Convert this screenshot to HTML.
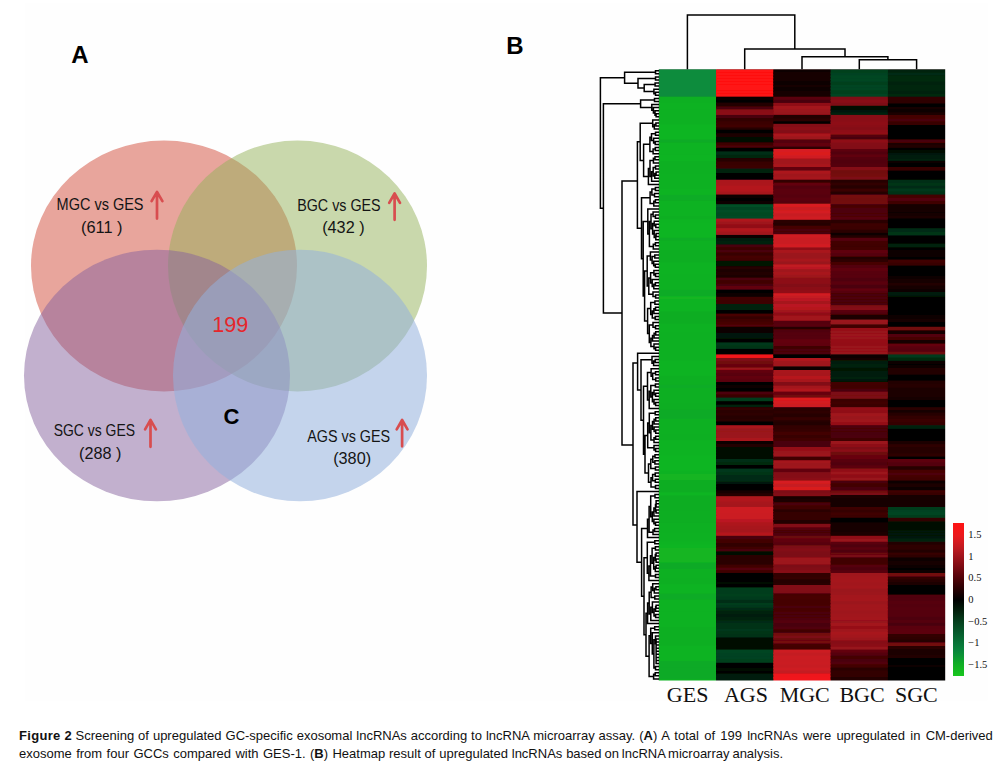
<!DOCTYPE html>
<html lang="en"><head><meta charset="utf-8"><title>Figure 2</title>
<style>
html,body{margin:0;padding:0;background:#fff;}
body{width:1002px;height:771px;position:relative;overflow:hidden;font-family:"Liberation Sans",sans-serif;}
.cap{position:absolute;left:19px;white-space:nowrap;font-size:13px;line-height:18px;color:#111;}
#c1{top:727px;word-spacing:0px;}
#c2{top:745px;word-spacing:0px;}
</style></head><body>
<svg width="1002" height="715" viewBox="0 0 1002 715" style="position:absolute;left:0;top:0">
<rect x="24.7" y="2.6" width="962.8" height="698" fill="#fefefe"/>
<ellipse cx="164.0" cy="266.0" rx="133.0" ry="125.5" fill="rgb(209, 75, 57)" fill-opacity="0.5"/>
<ellipse cx="297.5" cy="266.0" rx="129.5" ry="125.5" fill="rgb(147, 177, 89)" fill-opacity="0.5"/>
<ellipse cx="157.0" cy="375.5" rx="133.0" ry="125.8" fill="rgb(133, 97, 157)" fill-opacity="0.5"/>
<ellipse cx="300.0" cy="375.5" rx="127.0" ry="125.8" fill="rgb(148, 177, 220)" fill-opacity="0.55"/>
<text x="56.6" y="210" font-family="Liberation Sans, sans-serif" font-size="16.4" font-weight="normal" fill="#141414" textLength="86.9" lengthAdjust="spacingAndGlyphs">MGC vs GES</text>
<text x="81" y="233.4" font-family="Liberation Sans, sans-serif" font-size="15.7" font-weight="normal" fill="#141414" textLength="41.5" lengthAdjust="spacingAndGlyphs">(611 )</text>
<path d="M157 218.6 V192.1 M151.6 201.2 L157 191.79999999999998 L162.4 201.2" fill="none" stroke="#d84d4f" stroke-width="2.7" stroke-linecap="round" stroke-linejoin="round"/>
<text x="297.2" y="210.8" font-family="Liberation Sans, sans-serif" font-size="16.4" font-weight="normal" fill="#141414" textLength="83.4" lengthAdjust="spacingAndGlyphs">BGC vs GES</text>
<text x="322.2" y="232.8" font-family="Liberation Sans, sans-serif" font-size="15.7" font-weight="normal" fill="#141414" textLength="42.4" lengthAdjust="spacingAndGlyphs">(432 )</text>
<path d="M394.6 219.8 V193.8 M389.20000000000005 202.9 L394.6 193.5 L400.0 202.9" fill="none" stroke="#d84d4f" stroke-width="2.7" stroke-linecap="round" stroke-linejoin="round"/>
<text x="53.7" y="436.4" font-family="Liberation Sans, sans-serif" font-size="16.4" font-weight="normal" fill="#141414" textLength="81.3" lengthAdjust="spacingAndGlyphs">SGC vs GES</text>
<text x="79.1" y="459" font-family="Liberation Sans, sans-serif" font-size="15.7" font-weight="normal" fill="#141414" textLength="42.3" lengthAdjust="spacingAndGlyphs">(288 )</text>
<path d="M150.5 446.8 V420.2 M145.1 429.3 L150.5 419.9 L155.9 429.3" fill="none" stroke="#d84d4f" stroke-width="2.7" stroke-linecap="round" stroke-linejoin="round"/>
<text x="307.2" y="442.3" font-family="Liberation Sans, sans-serif" font-size="16.4" font-weight="normal" fill="#141414" textLength="82.9" lengthAdjust="spacingAndGlyphs">AGS vs GES</text>
<text x="333.2" y="463.8" font-family="Liberation Sans, sans-serif" font-size="15.7" font-weight="normal" fill="#141414" textLength="37.9" lengthAdjust="spacingAndGlyphs">(380)</text>
<path d="M402.1 446.3 V420.3 M396.70000000000005 429.40000000000003 L402.1 420.0 L407.5 429.40000000000003" fill="none" stroke="#d84d4f" stroke-width="2.7" stroke-linecap="round" stroke-linejoin="round"/>
<text x="212.3" y="332.2" font-family="Liberation Sans, sans-serif" font-size="22" fill="#e6262b" textLength="36" lengthAdjust="spacingAndGlyphs">199</text>
<text x="71.3" y="63.1" font-family="Liberation Sans, sans-serif" font-size="24" font-weight="bold" fill="#000">A</text>
<text x="506.3" y="54.4" font-family="Liberation Sans, sans-serif" font-size="24" font-weight="bold" fill="#000">B</text>
<text x="223.4" y="424" font-family="Liberation Sans, sans-serif" font-size="22" font-weight="bold" fill="#000">C</text>
<defs><clipPath id="hc"><rect x="658.8" y="69.2" width="286.4" height="611.2"/></clipPath><filter id="vb" x="0" y="0" width="1" height="1" filterUnits="objectBoundingBox"><feGaussianBlur stdDeviation="0 0.55"/></filter></defs>
<g clip-path="url(#hc)"><g filter="url(#vb)">
<rect x="656.8" y="64.2" width="290.4" height="621.2" fill="#200"/>
<rect x="658.8" y="69.20" width="57.78" height="29.10" fill="rgb(10, 140, 60)"/>
<rect x="658.8" y="96.70" width="57.78" height="7.74" fill="rgb(15, 176, 35)"/>
<rect x="658.8" y="102.84" width="57.78" height="7.74" fill="rgb(16, 178, 34)"/>
<rect x="658.8" y="108.98" width="57.78" height="16.90" fill="rgb(16, 177, 35)"/>
<rect x="658.8" y="124.28" width="57.78" height="16.90" fill="rgb(17, 181, 34)"/>
<rect x="658.8" y="139.58" width="57.78" height="4.67" fill="rgb(14, 171, 38)"/>
<rect x="658.8" y="142.65" width="57.78" height="13.90" fill="rgb(17, 179, 34)"/>
<rect x="658.8" y="154.95" width="57.78" height="7.74" fill="rgb(17, 180, 34)"/>
<rect x="658.8" y="161.09" width="57.78" height="13.90" fill="rgb(16, 176, 35)"/>
<rect x="658.8" y="173.39" width="57.78" height="16.90" fill="rgb(16, 177, 35)"/>
<rect x="658.8" y="188.69" width="57.78" height="7.74" fill="rgb(17, 179, 34)"/>
<rect x="658.8" y="194.83" width="57.78" height="7.74" fill="rgb(15, 172, 37)"/>
<rect x="658.8" y="200.97" width="57.78" height="16.90" fill="rgb(16, 178, 34)"/>
<rect x="658.8" y="216.27" width="57.78" height="4.67" fill="rgb(15, 175, 35)"/>
<rect x="658.8" y="219.34" width="57.78" height="4.67" fill="rgb(17, 180, 34)"/>
<rect x="658.8" y="222.41" width="57.78" height="16.90" fill="rgb(17, 181, 34)"/>
<rect x="658.8" y="237.71" width="57.78" height="4.67" fill="rgb(15, 172, 37)"/>
<rect x="658.8" y="240.78" width="57.78" height="10.80" fill="rgb(16, 177, 35)"/>
<rect x="658.8" y="249.98" width="57.78" height="13.90" fill="rgb(15, 174, 36)"/>
<rect x="658.8" y="262.28" width="57.78" height="13.90" fill="rgb(16, 178, 34)"/>
<rect x="658.8" y="274.58" width="57.78" height="16.90" fill="rgb(16, 177, 35)"/>
<rect x="658.8" y="289.88" width="57.78" height="7.74" fill="rgb(14, 171, 38)"/>
<rect x="658.8" y="296.02" width="57.78" height="4.67" fill="rgb(18, 181, 34)"/>
<rect x="658.8" y="299.09" width="57.78" height="13.90" fill="rgb(17, 179, 34)"/>
<rect x="658.8" y="311.39" width="57.78" height="13.90" fill="rgb(15, 173, 36)"/>
<rect x="658.8" y="323.69" width="57.78" height="10.80" fill="rgb(16, 177, 35)"/>
<rect x="658.8" y="332.89" width="57.78" height="13.90" fill="rgb(15, 176, 35)"/>
<rect x="658.8" y="345.19" width="57.78" height="16.90" fill="rgb(15, 176, 35)"/>
<rect x="658.8" y="360.49" width="57.78" height="16.90" fill="rgb(17, 179, 34)"/>
<rect x="658.8" y="375.79" width="57.78" height="10.80" fill="rgb(15, 175, 35)"/>
<rect x="658.8" y="384.99" width="57.78" height="4.67" fill="rgb(15, 172, 37)"/>
<rect x="658.8" y="388.06" width="57.78" height="16.90" fill="rgb(15, 175, 35)"/>
<rect x="658.8" y="403.36" width="57.78" height="7.74" fill="rgb(15, 174, 35)"/>
<rect x="658.8" y="409.50" width="57.78" height="10.80" fill="rgb(14, 170, 39)"/>
<rect x="658.8" y="418.70" width="57.78" height="16.90" fill="rgb(15, 176, 35)"/>
<rect x="658.8" y="434.00" width="57.78" height="7.74" fill="rgb(15, 175, 35)"/>
<rect x="658.8" y="440.14" width="57.78" height="16.90" fill="rgb(17, 179, 34)"/>
<rect x="658.8" y="455.44" width="57.78" height="4.67" fill="rgb(17, 181, 34)"/>
<rect x="658.8" y="458.51" width="57.78" height="13.90" fill="rgb(17, 181, 34)"/>
<rect x="658.8" y="470.81" width="57.78" height="4.67" fill="rgb(16, 178, 34)"/>
<rect x="658.8" y="473.88" width="57.78" height="7.74" fill="rgb(18, 181, 34)"/>
<rect x="658.8" y="480.02" width="57.78" height="13.90" fill="rgb(15, 173, 36)"/>
<rect x="658.8" y="492.32" width="57.78" height="4.67" fill="rgb(17, 181, 34)"/>
<rect x="658.8" y="495.39" width="57.78" height="16.90" fill="rgb(15, 173, 36)"/>
<rect x="658.8" y="510.69" width="57.78" height="13.90" fill="rgb(15, 174, 36)"/>
<rect x="658.8" y="522.99" width="57.78" height="10.80" fill="rgb(15, 176, 35)"/>
<rect x="658.8" y="532.19" width="57.78" height="10.80" fill="rgb(16, 177, 35)"/>
<rect x="658.8" y="541.39" width="57.78" height="4.67" fill="rgb(16, 179, 34)"/>
<rect x="658.8" y="544.46" width="57.78" height="4.67" fill="rgb(17, 181, 34)"/>
<rect x="658.8" y="547.53" width="57.78" height="16.90" fill="rgb(18, 181, 34)"/>
<rect x="658.8" y="562.83" width="57.78" height="7.74" fill="rgb(14, 170, 39)"/>
<rect x="658.8" y="568.97" width="57.78" height="10.80" fill="rgb(15, 176, 35)"/>
<rect x="658.8" y="578.17" width="57.78" height="7.74" fill="rgb(15, 175, 35)"/>
<rect x="658.8" y="584.31" width="57.78" height="10.80" fill="rgb(16, 179, 34)"/>
<rect x="658.8" y="593.51" width="57.78" height="7.74" fill="rgb(14, 171, 38)"/>
<rect x="658.8" y="599.65" width="57.78" height="13.90" fill="rgb(16, 178, 34)"/>
<rect x="658.8" y="611.95" width="57.78" height="16.90" fill="rgb(16, 178, 34)"/>
<rect x="658.8" y="627.25" width="57.78" height="16.90" fill="rgb(15, 175, 35)"/>
<rect x="658.8" y="642.55" width="57.78" height="4.67" fill="rgb(15, 175, 35)"/>
<rect x="658.8" y="645.62" width="57.78" height="16.90" fill="rgb(17, 179, 34)"/>
<rect x="658.8" y="660.92" width="57.78" height="7.74" fill="rgb(14, 170, 38)"/>
<rect x="658.8" y="667.06" width="57.78" height="13.90" fill="rgb(14, 170, 39)"/>
<rect x="658.8" y="679.36" width="57.78" height="2.64" fill="rgb(16, 179, 34)"/>
<rect x="716.08" y="69.32" width="57.68" height="4.64" fill="rgb(255, 18, 18)"/>
<rect x="716.08" y="72.36" width="57.68" height="4.64" fill="rgb(255, 18, 18)"/>
<rect x="716.08" y="75.40" width="57.68" height="4.64" fill="rgb(255, 18, 18)"/>
<rect x="716.08" y="78.44" width="57.68" height="4.64" fill="rgb(255, 18, 18)"/>
<rect x="716.08" y="81.48" width="57.68" height="4.64" fill="rgb(255, 18, 18)"/>
<rect x="716.08" y="84.52" width="57.68" height="4.64" fill="rgb(255, 18, 18)"/>
<rect x="716.08" y="87.56" width="57.68" height="4.64" fill="rgb(255, 18, 18)"/>
<rect x="716.08" y="90.60" width="57.68" height="4.64" fill="rgb(255, 18, 18)"/>
<rect x="716.08" y="93.64" width="57.68" height="4.64" fill="rgb(255, 18, 18)"/>
<rect x="716.08" y="96.68" width="57.68" height="4.72" fill="rgb(12, 0, 1)"/>
<rect x="716.08" y="99.80" width="57.68" height="4.72" fill="rgb(6, 0, 0)"/>
<rect x="716.08" y="102.92" width="57.68" height="4.96" fill="rgb(32, 0, 2)"/>
<rect x="716.08" y="106.28" width="57.68" height="4.72" fill="rgb(74, 2, 7)"/>
<rect x="716.08" y="109.40" width="57.68" height="4.36" fill="rgb(137, 14, 22)"/>
<rect x="716.08" y="112.16" width="57.68" height="4.36" fill="rgb(139, 15, 23)"/>
<rect x="716.08" y="114.92" width="57.68" height="4.72" fill="rgb(73, 2, 7)"/>
<rect x="716.08" y="118.04" width="57.68" height="4.72" fill="rgb(51, 1, 4)"/>
<rect x="716.08" y="121.16" width="57.68" height="4.72" fill="rgb(59, 1, 5)"/>
<rect x="716.08" y="124.28" width="57.68" height="4.72" fill="rgb(65, 1, 6)"/>
<rect x="716.08" y="127.40" width="57.68" height="4.00" fill="rgb(40, 0, 2)"/>
<rect x="716.08" y="129.79" width="57.68" height="5.20" fill="rgb(3, 0, 0)"/>
<rect x="716.08" y="133.39" width="57.68" height="5.20" fill="rgb(29, 0, 1)"/>
<rect x="716.08" y="136.99" width="57.68" height="4.24" fill="rgb(1, 8, 3)"/>
<rect x="716.08" y="139.63" width="57.68" height="4.24" fill="rgb(1, 15, 5)"/>
<rect x="716.08" y="142.27" width="57.68" height="4.36" fill="rgb(61, 1, 5)"/>
<rect x="716.08" y="145.03" width="57.68" height="4.36" fill="rgb(75, 2, 7)"/>
<rect x="716.08" y="147.79" width="57.68" height="5.20" fill="rgb(3, 0, 0)"/>
<rect x="716.08" y="151.39" width="57.68" height="4.96" fill="rgb(4, 47, 21)"/>
<rect x="716.08" y="154.75" width="57.68" height="4.96" fill="rgb(3, 38, 15)"/>
<rect x="716.08" y="158.11" width="57.68" height="5.12" fill="rgb(39, 0, 2)"/>
<rect x="716.08" y="161.63" width="57.68" height="5.12" fill="rgb(56, 1, 4)"/>
<rect x="716.08" y="165.15" width="57.68" height="5.12" fill="rgb(59, 1, 5)"/>
<rect x="716.08" y="168.67" width="57.68" height="5.92" fill="rgb(3, 36, 14)"/>
<rect x="716.08" y="172.99" width="57.68" height="4.96" fill="rgb(0, 3, 1)"/>
<rect x="716.08" y="176.35" width="57.68" height="4.96" fill="rgb(1, 0, 0)"/>
<rect x="716.08" y="179.71" width="57.68" height="4.58" fill="rgb(171, 22, 30)"/>
<rect x="716.08" y="182.69" width="57.68" height="4.58" fill="rgb(172, 22, 30)"/>
<rect x="716.08" y="185.66" width="57.68" height="4.58" fill="rgb(180, 24, 31)"/>
<rect x="716.08" y="188.64" width="57.68" height="4.58" fill="rgb(179, 24, 31)"/>
<rect x="716.08" y="191.61" width="57.68" height="4.58" fill="rgb(167, 21, 29)"/>
<rect x="716.08" y="194.59" width="57.68" height="4.80" fill="rgb(12, 0, 1)"/>
<rect x="716.08" y="197.79" width="57.68" height="4.80" fill="rgb(5, 0, 0)"/>
<rect x="716.08" y="200.99" width="57.68" height="4.80" fill="rgb(12, 0, 1)"/>
<rect x="716.08" y="204.19" width="57.68" height="4.48" fill="rgb(6, 79, 38)"/>
<rect x="716.08" y="207.07" width="57.68" height="4.48" fill="rgb(5, 69, 33)"/>
<rect x="716.08" y="209.95" width="57.68" height="4.48" fill="rgb(6, 77, 37)"/>
<rect x="716.08" y="212.83" width="57.68" height="4.48" fill="rgb(6, 72, 35)"/>
<rect x="716.08" y="215.71" width="57.68" height="4.48" fill="rgb(6, 76, 37)"/>
<rect x="716.08" y="218.59" width="57.68" height="4.60" fill="rgb(174, 23, 30)"/>
<rect x="716.08" y="221.59" width="57.68" height="4.60" fill="rgb(158, 19, 27)"/>
<rect x="716.08" y="224.59" width="57.68" height="5.20" fill="rgb(145, 16, 24)"/>
<rect x="716.08" y="228.19" width="57.68" height="4.96" fill="rgb(178, 24, 31)"/>
<rect x="716.08" y="231.55" width="57.68" height="4.96" fill="rgb(164, 21, 29)"/>
<rect x="716.08" y="234.91" width="57.68" height="4.48" fill="rgb(16, 0, 1)"/>
<rect x="716.08" y="237.79" width="57.68" height="4.96" fill="rgb(2, 30, 10)"/>
<rect x="716.08" y="241.15" width="57.68" height="4.96" fill="rgb(2, 35, 13)"/>
<rect x="716.08" y="244.51" width="57.68" height="4.35" fill="rgb(74, 2, 7)"/>
<rect x="716.08" y="247.25" width="57.68" height="4.35" fill="rgb(61, 1, 5)"/>
<rect x="716.08" y="250.00" width="57.68" height="4.30" fill="rgb(73, 2, 7)"/>
<rect x="716.08" y="252.70" width="57.68" height="4.30" fill="rgb(55, 1, 4)"/>
<rect x="716.08" y="255.40" width="57.68" height="4.30" fill="rgb(68, 1, 6)"/>
<rect x="716.08" y="258.10" width="57.68" height="4.30" fill="rgb(67, 1, 6)"/>
<rect x="716.08" y="260.80" width="57.68" height="4.36" fill="rgb(1, 19, 6)"/>
<rect x="716.08" y="263.56" width="57.68" height="4.36" fill="rgb(1, 18, 6)"/>
<rect x="716.08" y="266.32" width="57.68" height="4.42" fill="rgb(40, 0, 2)"/>
<rect x="716.08" y="269.14" width="57.68" height="4.42" fill="rgb(31, 0, 2)"/>
<rect x="716.08" y="271.96" width="57.68" height="4.42" fill="rgb(35, 0, 2)"/>
<rect x="716.08" y="274.78" width="57.68" height="4.42" fill="rgb(27, 0, 1)"/>
<rect x="716.08" y="277.60" width="57.68" height="4.40" fill="rgb(75, 2, 7)"/>
<rect x="716.08" y="280.40" width="57.68" height="4.40" fill="rgb(63, 1, 5)"/>
<rect x="716.08" y="283.20" width="57.68" height="4.40" fill="rgb(72, 2, 7)"/>
<rect x="716.08" y="286.00" width="57.68" height="5.20" fill="rgb(98, 5, 12)"/>
<rect x="716.08" y="289.60" width="57.68" height="5.20" fill="rgb(6, 0, 0)"/>
<rect x="716.08" y="293.20" width="57.68" height="5.20" fill="rgb(12, 0, 1)"/>
<rect x="716.08" y="296.80" width="57.68" height="5.20" fill="rgb(65, 1, 6)"/>
<rect x="716.08" y="300.40" width="57.68" height="5.20" fill="rgb(60, 1, 5)"/>
<rect x="716.08" y="304.00" width="57.68" height="4.60" fill="rgb(3, 36, 14)"/>
<rect x="716.08" y="307.00" width="57.68" height="4.60" fill="rgb(3, 35, 13)"/>
<rect x="716.08" y="310.00" width="57.68" height="5.20" fill="rgb(5, 0, 0)"/>
<rect x="716.08" y="313.59" width="57.68" height="4.30" fill="rgb(70, 1, 6)"/>
<rect x="716.08" y="316.29" width="57.68" height="4.30" fill="rgb(54, 1, 4)"/>
<rect x="716.08" y="318.99" width="57.68" height="4.30" fill="rgb(64, 1, 5)"/>
<rect x="716.08" y="321.69" width="57.68" height="4.30" fill="rgb(71, 1, 6)"/>
<rect x="716.08" y="324.39" width="57.68" height="4.00" fill="rgb(82, 2, 8)"/>
<rect x="716.08" y="326.79" width="57.68" height="4.60" fill="rgb(12, 0, 1)"/>
<rect x="716.08" y="329.79" width="57.68" height="4.60" fill="rgb(12, 0, 1)"/>
<rect x="716.08" y="332.79" width="57.68" height="4.60" fill="rgb(2, 24, 8)"/>
<rect x="716.08" y="335.79" width="57.68" height="4.60" fill="rgb(2, 24, 8)"/>
<rect x="716.08" y="338.79" width="57.68" height="5.20" fill="rgb(5, 0, 0)"/>
<rect x="716.08" y="342.39" width="57.68" height="4.84" fill="rgb(4, 56, 26)"/>
<rect x="716.08" y="345.63" width="57.68" height="4.84" fill="rgb(4, 54, 25)"/>
<rect x="716.08" y="348.87" width="57.68" height="4.36" fill="rgb(3, 0, 0)"/>
<rect x="716.08" y="351.63" width="57.68" height="4.36" fill="rgb(0, 2, 1)"/>
<rect x="716.08" y="354.39" width="57.68" height="5.20" fill="rgb(241, 24, 26)"/>
<rect x="716.08" y="357.99" width="57.68" height="4.80" fill="rgb(123, 10, 18)"/>
<rect x="716.08" y="361.19" width="57.68" height="4.80" fill="rgb(112, 8, 16)"/>
<rect x="716.08" y="364.39" width="57.68" height="4.80" fill="rgb(104, 6, 13)"/>
<rect x="716.08" y="367.59" width="57.68" height="4.00" fill="rgb(152, 18, 26)"/>
<rect x="716.08" y="369.99" width="57.68" height="4.60" fill="rgb(98, 5, 12)"/>
<rect x="716.08" y="372.99" width="57.68" height="4.60" fill="rgb(90, 4, 10)"/>
<rect x="716.08" y="375.99" width="57.68" height="4.60" fill="rgb(98, 5, 12)"/>
<rect x="716.08" y="378.99" width="57.68" height="4.60" fill="rgb(92, 4, 11)"/>
<rect x="716.08" y="381.99" width="57.68" height="4.80" fill="rgb(2, 0, 0)"/>
<rect x="716.08" y="385.19" width="57.68" height="4.80" fill="rgb(14, 0, 1)"/>
<rect x="716.08" y="388.39" width="57.68" height="4.80" fill="rgb(3, 0, 0)"/>
<rect x="716.08" y="391.59" width="57.68" height="4.60" fill="rgb(75, 2, 7)"/>
<rect x="716.08" y="394.59" width="57.68" height="4.60" fill="rgb(56, 1, 4)"/>
<rect x="716.08" y="397.59" width="57.68" height="5.20" fill="rgb(5, 62, 30)"/>
<rect x="716.08" y="401.19" width="57.68" height="5.20" fill="rgb(0, 3, 1)"/>
<rect x="716.08" y="404.79" width="57.68" height="4.00" fill="rgb(3, 36, 14)"/>
<rect x="716.08" y="407.19" width="57.68" height="4.40" fill="rgb(51, 1, 4)"/>
<rect x="716.08" y="409.99" width="57.68" height="4.40" fill="rgb(41, 0, 2)"/>
<rect x="716.08" y="412.79" width="57.68" height="4.40" fill="rgb(47, 0, 3)"/>
<rect x="716.08" y="415.59" width="57.68" height="4.60" fill="rgb(38, 0, 2)"/>
<rect x="716.08" y="418.59" width="57.68" height="4.60" fill="rgb(42, 0, 2)"/>
<rect x="716.08" y="421.59" width="57.68" height="5.20" fill="rgb(0, 3, 1)"/>
<rect x="716.08" y="425.19" width="57.68" height="4.87" fill="rgb(169, 22, 29)"/>
<rect x="716.08" y="428.46" width="57.68" height="4.87" fill="rgb(152, 18, 26)"/>
<rect x="716.08" y="431.73" width="57.68" height="4.87" fill="rgb(154, 19, 27)"/>
<rect x="716.08" y="435.00" width="57.68" height="4.60" fill="rgb(155, 19, 27)"/>
<rect x="716.08" y="438.00" width="57.68" height="4.60" fill="rgb(169, 22, 29)"/>
<rect x="716.08" y="441.00" width="57.68" height="4.60" fill="rgb(16, 0, 1)"/>
<rect x="716.08" y="444.00" width="57.68" height="4.60" fill="rgb(33, 0, 2)"/>
<rect x="716.08" y="447.00" width="57.68" height="4.60" fill="rgb(1, 12, 4)"/>
<rect x="716.08" y="450.00" width="57.68" height="4.60" fill="rgb(1, 11, 4)"/>
<rect x="716.08" y="453.00" width="57.68" height="4.60" fill="rgb(1, 14, 5)"/>
<rect x="716.08" y="456.00" width="57.68" height="4.60" fill="rgb(1, 8, 3)"/>
<rect x="716.08" y="459.00" width="57.68" height="4.60" fill="rgb(4, 47, 21)"/>
<rect x="716.08" y="462.00" width="57.68" height="4.60" fill="rgb(3, 41, 17)"/>
<rect x="716.08" y="465.00" width="57.68" height="5.20" fill="rgb(0, 0, 0)"/>
<rect x="716.08" y="468.60" width="57.68" height="4.90" fill="rgb(5, 57, 27)"/>
<rect x="716.08" y="471.90" width="57.68" height="4.90" fill="rgb(4, 52, 24)"/>
<rect x="716.08" y="475.20" width="57.68" height="4.90" fill="rgb(3, 43, 18)"/>
<rect x="716.08" y="478.50" width="57.68" height="4.90" fill="rgb(3, 43, 18)"/>
<rect x="716.08" y="481.80" width="57.68" height="4.00" fill="rgb(2, 24, 8)"/>
<rect x="716.08" y="484.20" width="57.68" height="4.60" fill="rgb(0, 3, 1)"/>
<rect x="716.08" y="487.20" width="57.68" height="4.60" fill="rgb(0, 0, 0)"/>
<rect x="716.08" y="490.20" width="57.68" height="4.60" fill="rgb(22, 0, 1)"/>
<rect x="716.08" y="493.20" width="57.68" height="4.60" fill="rgb(37, 0, 2)"/>
<rect x="716.08" y="496.20" width="57.68" height="4.30" fill="rgb(176, 23, 30)"/>
<rect x="716.08" y="498.89" width="57.68" height="4.30" fill="rgb(176, 23, 30)"/>
<rect x="716.08" y="501.59" width="57.68" height="4.30" fill="rgb(168, 22, 29)"/>
<rect x="716.08" y="504.29" width="57.68" height="4.30" fill="rgb(166, 21, 29)"/>
<rect x="716.08" y="506.99" width="57.68" height="4.60" fill="rgb(205, 28, 33)"/>
<rect x="716.08" y="509.99" width="57.68" height="4.60" fill="rgb(205, 28, 33)"/>
<rect x="716.08" y="512.99" width="57.68" height="4.60" fill="rgb(203, 28, 33)"/>
<rect x="716.08" y="515.99" width="57.68" height="4.60" fill="rgb(203, 28, 34)"/>
<rect x="716.08" y="518.99" width="57.68" height="4.96" fill="rgb(187, 25, 32)"/>
<rect x="716.08" y="522.35" width="57.68" height="4.96" fill="rgb(174, 23, 30)"/>
<rect x="716.08" y="525.71" width="57.68" height="4.96" fill="rgb(168, 22, 29)"/>
<rect x="716.08" y="529.07" width="57.68" height="4.96" fill="rgb(165, 21, 29)"/>
<rect x="716.08" y="532.43" width="57.68" height="4.96" fill="rgb(181, 24, 31)"/>
<rect x="716.08" y="535.79" width="57.68" height="5.20" fill="rgb(72, 2, 7)"/>
<rect x="716.08" y="539.39" width="57.68" height="5.20" fill="rgb(67, 1, 6)"/>
<rect x="716.08" y="542.99" width="57.68" height="5.20" fill="rgb(48, 0, 3)"/>
<rect x="716.08" y="546.59" width="57.68" height="4.00" fill="rgb(63, 1, 5)"/>
<rect x="716.08" y="548.99" width="57.68" height="4.00" fill="rgb(73, 2, 7)"/>
<rect x="716.08" y="551.39" width="57.68" height="5.20" fill="rgb(1, 12, 4)"/>
<rect x="716.08" y="554.99" width="57.68" height="4.80" fill="rgb(44, 0, 3)"/>
<rect x="716.08" y="558.19" width="57.68" height="4.80" fill="rgb(41, 0, 2)"/>
<rect x="716.08" y="561.39" width="57.68" height="4.80" fill="rgb(43, 0, 2)"/>
<rect x="716.08" y="564.59" width="57.68" height="4.40" fill="rgb(63, 1, 5)"/>
<rect x="716.08" y="567.39" width="57.68" height="4.40" fill="rgb(83, 2, 8)"/>
<rect x="716.08" y="570.19" width="57.68" height="4.40" fill="rgb(63, 1, 5)"/>
<rect x="716.08" y="572.99" width="57.68" height="4.40" fill="rgb(2, 0, 0)"/>
<rect x="716.08" y="575.79" width="57.68" height="4.40" fill="rgb(4, 0, 0)"/>
<rect x="716.08" y="578.59" width="57.68" height="4.40" fill="rgb(0, 3, 1)"/>
<rect x="716.08" y="581.39" width="57.68" height="4.60" fill="rgb(1, 8, 3)"/>
<rect x="716.08" y="584.39" width="57.68" height="4.60" fill="rgb(0, 4, 1)"/>
<rect x="716.08" y="587.39" width="57.68" height="4.72" fill="rgb(5, 61, 29)"/>
<rect x="716.08" y="590.51" width="57.68" height="4.72" fill="rgb(5, 62, 30)"/>
<rect x="716.08" y="593.63" width="57.68" height="4.72" fill="rgb(5, 64, 31)"/>
<rect x="716.08" y="596.75" width="57.68" height="4.72" fill="rgb(5, 59, 28)"/>
<rect x="716.08" y="599.87" width="57.68" height="4.72" fill="rgb(4, 47, 21)"/>
<rect x="716.08" y="602.99" width="57.68" height="4.00" fill="rgb(5, 61, 29)"/>
<rect x="716.08" y="605.39" width="57.68" height="4.00" fill="rgb(4, 55, 26)"/>
<rect x="716.08" y="607.79" width="57.68" height="4.65" fill="rgb(3, 43, 18)"/>
<rect x="716.08" y="610.84" width="57.68" height="4.65" fill="rgb(2, 33, 12)"/>
<rect x="716.08" y="613.89" width="57.68" height="4.65" fill="rgb(2, 29, 10)"/>
<rect x="716.08" y="616.95" width="57.68" height="4.65" fill="rgb(2, 32, 11)"/>
<rect x="716.08" y="620.08" width="57.68" height="4.52" fill="rgb(3, 43, 18)"/>
<rect x="716.08" y="623.00" width="57.68" height="4.52" fill="rgb(4, 49, 22)"/>
<rect x="716.08" y="625.92" width="57.68" height="4.52" fill="rgb(4, 51, 23)"/>
<rect x="716.08" y="628.84" width="57.68" height="4.52" fill="rgb(4, 56, 26)"/>
<rect x="716.08" y="631.76" width="57.68" height="4.52" fill="rgb(4, 52, 24)"/>
<rect x="716.08" y="634.68" width="57.68" height="4.52" fill="rgb(4, 49, 22)"/>
<rect x="716.08" y="637.60" width="57.68" height="4.60" fill="rgb(0, 7, 2)"/>
<rect x="716.08" y="640.60" width="57.68" height="4.60" fill="rgb(1, 8, 3)"/>
<rect x="716.08" y="643.60" width="57.68" height="4.60" fill="rgb(1, 12, 4)"/>
<rect x="716.08" y="646.60" width="57.68" height="4.60" fill="rgb(1, 16, 5)"/>
<rect x="716.08" y="649.59" width="57.68" height="4.90" fill="rgb(5, 69, 33)"/>
<rect x="716.08" y="652.89" width="57.68" height="4.90" fill="rgb(5, 67, 32)"/>
<rect x="716.08" y="656.19" width="57.68" height="4.90" fill="rgb(5, 66, 32)"/>
<rect x="716.08" y="659.49" width="57.68" height="4.90" fill="rgb(5, 65, 31)"/>
<rect x="716.08" y="662.79" width="57.68" height="4.30" fill="rgb(0, 4, 1)"/>
<rect x="716.08" y="665.49" width="57.68" height="4.30" fill="rgb(0, 3, 1)"/>
<rect x="716.08" y="668.19" width="57.68" height="4.30" fill="rgb(1, 9, 3)"/>
<rect x="716.08" y="670.89" width="57.68" height="4.30" fill="rgb(0, 5, 2)"/>
<rect x="716.08" y="673.59" width="57.68" height="5.00" fill="rgb(2, 28, 9)"/>
<rect x="716.08" y="677.00" width="57.68" height="5.00" fill="rgb(2, 27, 9)"/>
<rect x="773.36" y="69.32" width="57.68" height="4.64" fill="rgb(15, 0, 1)"/>
<rect x="773.36" y="72.36" width="57.68" height="4.64" fill="rgb(25, 0, 1)"/>
<rect x="773.36" y="75.40" width="57.68" height="4.64" fill="rgb(20, 0, 1)"/>
<rect x="773.36" y="78.44" width="57.68" height="4.64" fill="rgb(20, 0, 1)"/>
<rect x="773.36" y="81.48" width="57.68" height="4.64" fill="rgb(16, 0, 1)"/>
<rect x="773.36" y="84.52" width="57.68" height="4.64" fill="rgb(20, 0, 1)"/>
<rect x="773.36" y="87.56" width="57.68" height="4.64" fill="rgb(15, 0, 1)"/>
<rect x="773.36" y="90.60" width="57.68" height="4.64" fill="rgb(20, 0, 1)"/>
<rect x="773.36" y="93.64" width="57.68" height="4.64" fill="rgb(20, 0, 1)"/>
<rect x="773.36" y="96.68" width="57.68" height="4.72" fill="rgb(90, 4, 10)"/>
<rect x="773.36" y="99.80" width="57.68" height="4.72" fill="rgb(74, 2, 7)"/>
<rect x="773.36" y="102.92" width="57.68" height="4.60" fill="rgb(143, 16, 24)"/>
<rect x="773.36" y="105.92" width="57.68" height="4.60" fill="rgb(163, 21, 28)"/>
<rect x="773.36" y="108.92" width="57.68" height="4.60" fill="rgb(156, 19, 27)"/>
<rect x="773.36" y="111.92" width="57.68" height="4.60" fill="rgb(151, 18, 26)"/>
<rect x="773.36" y="114.92" width="57.68" height="4.84" fill="rgb(36, 0, 2)"/>
<rect x="773.36" y="118.16" width="57.68" height="4.84" fill="rgb(42, 0, 2)"/>
<rect x="773.36" y="121.40" width="57.68" height="4.00" fill="rgb(1, 0, 0)"/>
<rect x="773.36" y="123.80" width="57.68" height="4.80" fill="rgb(132, 13, 21)"/>
<rect x="773.36" y="127.00" width="57.68" height="4.80" fill="rgb(139, 14, 22)"/>
<rect x="773.36" y="130.19" width="57.68" height="4.80" fill="rgb(131, 12, 20)"/>
<rect x="773.36" y="133.39" width="57.68" height="4.60" fill="rgb(170, 22, 30)"/>
<rect x="773.36" y="136.39" width="57.68" height="4.60" fill="rgb(157, 19, 27)"/>
<rect x="773.36" y="139.39" width="57.68" height="5.20" fill="rgb(84, 2, 9)"/>
<rect x="773.36" y="142.99" width="57.68" height="5.20" fill="rgb(100, 6, 12)"/>
<rect x="773.36" y="146.59" width="57.68" height="4.00" fill="rgb(48, 0, 3)"/>
<rect x="773.36" y="148.99" width="57.68" height="4.80" fill="rgb(215, 27, 32)"/>
<rect x="773.36" y="152.19" width="57.68" height="4.80" fill="rgb(218, 27, 31)"/>
<rect x="773.36" y="155.39" width="57.68" height="4.80" fill="rgb(206, 28, 33)"/>
<rect x="773.36" y="158.59" width="57.68" height="4.40" fill="rgb(162, 20, 28)"/>
<rect x="773.36" y="161.39" width="57.68" height="4.40" fill="rgb(162, 20, 28)"/>
<rect x="773.36" y="164.19" width="57.68" height="4.40" fill="rgb(169, 22, 29)"/>
<rect x="773.36" y="166.99" width="57.68" height="5.20" fill="rgb(98, 5, 12)"/>
<rect x="773.36" y="170.59" width="57.68" height="4.64" fill="rgb(172, 22, 30)"/>
<rect x="773.36" y="173.63" width="57.68" height="4.64" fill="rgb(160, 20, 28)"/>
<rect x="773.36" y="176.67" width="57.68" height="4.64" fill="rgb(166, 21, 29)"/>
<rect x="773.36" y="179.71" width="57.68" height="4.48" fill="rgb(48, 0, 3)"/>
<rect x="773.36" y="182.59" width="57.68" height="4.60" fill="rgb(99, 5, 12)"/>
<rect x="773.36" y="185.59" width="57.68" height="4.60" fill="rgb(82, 2, 8)"/>
<rect x="773.36" y="188.59" width="57.68" height="4.60" fill="rgb(90, 4, 10)"/>
<rect x="773.36" y="191.59" width="57.68" height="4.60" fill="rgb(90, 4, 10)"/>
<rect x="773.36" y="194.59" width="57.68" height="4.64" fill="rgb(86, 3, 9)"/>
<rect x="773.36" y="197.63" width="57.68" height="4.64" fill="rgb(92, 4, 11)"/>
<rect x="773.36" y="200.67" width="57.68" height="4.64" fill="rgb(84, 2, 8)"/>
<rect x="773.36" y="203.71" width="57.68" height="4.82" fill="rgb(215, 27, 32)"/>
<rect x="773.36" y="206.92" width="57.68" height="4.82" fill="rgb(200, 28, 34)"/>
<rect x="773.36" y="210.14" width="57.68" height="4.82" fill="rgb(213, 27, 32)"/>
<rect x="773.36" y="213.36" width="57.68" height="4.82" fill="rgb(200, 28, 34)"/>
<rect x="773.36" y="216.57" width="57.68" height="4.82" fill="rgb(208, 27, 33)"/>
<rect x="773.36" y="219.79" width="57.68" height="4.60" fill="rgb(42, 0, 2)"/>
<rect x="773.36" y="222.79" width="57.68" height="4.60" fill="rgb(40, 0, 2)"/>
<rect x="773.36" y="225.79" width="57.68" height="4.40" fill="rgb(69, 1, 6)"/>
<rect x="773.36" y="228.59" width="57.68" height="4.40" fill="rgb(75, 2, 7)"/>
<rect x="773.36" y="231.39" width="57.68" height="4.40" fill="rgb(73, 2, 7)"/>
<rect x="773.36" y="234.19" width="57.68" height="4.90" fill="rgb(208, 27, 33)"/>
<rect x="773.36" y="237.49" width="57.68" height="4.90" fill="rgb(202, 28, 34)"/>
<rect x="773.36" y="240.79" width="57.68" height="4.90" fill="rgb(202, 28, 34)"/>
<rect x="773.36" y="244.09" width="57.68" height="4.90" fill="rgb(210, 27, 32)"/>
<rect x="773.36" y="247.39" width="57.68" height="4.21" fill="rgb(145, 16, 24)"/>
<rect x="773.36" y="250.00" width="57.68" height="4.48" fill="rgb(169, 22, 29)"/>
<rect x="773.36" y="252.88" width="57.68" height="4.48" fill="rgb(156, 19, 27)"/>
<rect x="773.36" y="255.76" width="57.68" height="4.48" fill="rgb(155, 19, 27)"/>
<rect x="773.36" y="258.64" width="57.68" height="4.48" fill="rgb(167, 21, 29)"/>
<rect x="773.36" y="261.52" width="57.68" height="4.48" fill="rgb(154, 18, 26)"/>
<rect x="773.36" y="264.40" width="57.68" height="4.00" fill="rgb(194, 27, 33)"/>
<rect x="773.36" y="266.80" width="57.68" height="4.00" fill="rgb(186, 25, 32)"/>
<rect x="773.36" y="269.20" width="57.68" height="4.40" fill="rgb(160, 20, 28)"/>
<rect x="773.36" y="272.00" width="57.68" height="4.40" fill="rgb(168, 22, 29)"/>
<rect x="773.36" y="274.80" width="57.68" height="4.40" fill="rgb(158, 20, 28)"/>
<rect x="773.36" y="277.60" width="57.68" height="4.72" fill="rgb(141, 15, 23)"/>
<rect x="773.36" y="280.72" width="57.68" height="4.72" fill="rgb(141, 15, 23)"/>
<rect x="773.36" y="283.84" width="57.68" height="4.72" fill="rgb(131, 12, 20)"/>
<rect x="773.36" y="286.96" width="57.68" height="4.72" fill="rgb(139, 14, 22)"/>
<rect x="773.36" y="290.08" width="57.68" height="4.72" fill="rgb(146, 16, 24)"/>
<rect x="773.36" y="293.20" width="57.68" height="4.00" fill="rgb(211, 27, 32)"/>
<rect x="773.36" y="295.60" width="57.68" height="4.00" fill="rgb(197, 27, 34)"/>
<rect x="773.36" y="298.00" width="57.68" height="4.60" fill="rgb(187, 25, 32)"/>
<rect x="773.36" y="301.00" width="57.68" height="4.60" fill="rgb(166, 21, 29)"/>
<rect x="773.36" y="304.00" width="57.68" height="4.60" fill="rgb(186, 25, 32)"/>
<rect x="773.36" y="307.00" width="57.68" height="4.60" fill="rgb(182, 24, 31)"/>
<rect x="773.36" y="310.00" width="57.68" height="4.30" fill="rgb(161, 20, 28)"/>
<rect x="773.36" y="312.69" width="57.68" height="4.30" fill="rgb(143, 15, 23)"/>
<rect x="773.36" y="315.39" width="57.68" height="4.30" fill="rgb(161, 20, 28)"/>
<rect x="773.36" y="318.09" width="57.68" height="4.30" fill="rgb(161, 20, 28)"/>
<rect x="773.36" y="320.79" width="57.68" height="4.60" fill="rgb(85, 3, 9)"/>
<rect x="773.36" y="323.79" width="57.68" height="4.60" fill="rgb(88, 3, 10)"/>
<rect x="773.36" y="326.79" width="57.68" height="4.00" fill="rgb(40, 0, 2)"/>
<rect x="773.36" y="329.19" width="57.68" height="4.96" fill="rgb(80, 2, 8)"/>
<rect x="773.36" y="332.55" width="57.68" height="4.96" fill="rgb(84, 2, 8)"/>
<rect x="773.36" y="335.91" width="57.68" height="4.96" fill="rgb(84, 2, 9)"/>
<rect x="773.36" y="339.27" width="57.68" height="4.96" fill="rgb(99, 5, 12)"/>
<rect x="773.36" y="342.63" width="57.68" height="4.96" fill="rgb(96, 5, 12)"/>
<rect x="773.36" y="345.99" width="57.68" height="4.40" fill="rgb(65, 1, 6)"/>
<rect x="773.36" y="348.79" width="57.68" height="4.40" fill="rgb(76, 2, 7)"/>
<rect x="773.36" y="351.59" width="57.68" height="4.40" fill="rgb(78, 2, 7)"/>
<rect x="773.36" y="354.39" width="57.68" height="5.20" fill="rgb(0, 3, 1)"/>
<rect x="773.36" y="357.99" width="57.68" height="4.40" fill="rgb(178, 24, 31)"/>
<rect x="773.36" y="360.79" width="57.68" height="4.40" fill="rgb(161, 20, 28)"/>
<rect x="773.36" y="363.59" width="57.68" height="4.40" fill="rgb(158, 19, 27)"/>
<rect x="773.36" y="366.39" width="57.68" height="5.20" fill="rgb(16, 0, 1)"/>
<rect x="773.36" y="369.99" width="57.68" height="4.60" fill="rgb(169, 22, 29)"/>
<rect x="773.36" y="372.99" width="57.68" height="4.60" fill="rgb(167, 21, 29)"/>
<rect x="773.36" y="375.99" width="57.68" height="4.60" fill="rgb(183, 25, 31)"/>
<rect x="773.36" y="378.99" width="57.68" height="4.60" fill="rgb(167, 21, 29)"/>
<rect x="773.36" y="381.99" width="57.68" height="5.20" fill="rgb(130, 12, 20)"/>
<rect x="773.36" y="385.59" width="57.68" height="4.60" fill="rgb(163, 21, 28)"/>
<rect x="773.36" y="388.59" width="57.68" height="4.60" fill="rgb(177, 23, 31)"/>
<rect x="773.36" y="391.59" width="57.68" height="4.60" fill="rgb(104, 6, 13)"/>
<rect x="773.36" y="394.59" width="57.68" height="4.60" fill="rgb(113, 8, 16)"/>
<rect x="773.36" y="397.59" width="57.68" height="4.80" fill="rgb(220, 26, 31)"/>
<rect x="773.36" y="400.79" width="57.68" height="4.80" fill="rgb(212, 27, 32)"/>
<rect x="773.36" y="403.99" width="57.68" height="4.80" fill="rgb(205, 28, 33)"/>
<rect x="773.36" y="407.19" width="57.68" height="4.90" fill="rgb(44, 0, 3)"/>
<rect x="773.36" y="410.49" width="57.68" height="4.90" fill="rgb(46, 0, 3)"/>
<rect x="773.36" y="413.79" width="57.68" height="4.90" fill="rgb(39, 0, 2)"/>
<rect x="773.36" y="417.09" width="57.68" height="4.90" fill="rgb(52, 1, 4)"/>
<rect x="773.36" y="420.39" width="57.68" height="4.00" fill="rgb(37, 0, 2)"/>
<rect x="773.36" y="422.79" width="57.68" height="4.00" fill="rgb(32, 0, 2)"/>
<rect x="773.36" y="425.19" width="57.68" height="4.87" fill="rgb(48, 0, 3)"/>
<rect x="773.36" y="428.46" width="57.68" height="4.87" fill="rgb(53, 1, 4)"/>
<rect x="773.36" y="431.73" width="57.68" height="4.87" fill="rgb(66, 1, 6)"/>
<rect x="773.36" y="435.00" width="57.68" height="4.60" fill="rgb(55, 1, 4)"/>
<rect x="773.36" y="438.00" width="57.68" height="4.60" fill="rgb(64, 1, 5)"/>
<rect x="773.36" y="441.00" width="57.68" height="4.60" fill="rgb(72, 2, 7)"/>
<rect x="773.36" y="444.00" width="57.68" height="4.60" fill="rgb(74, 2, 7)"/>
<rect x="773.36" y="447.00" width="57.68" height="4.80" fill="rgb(147, 17, 25)"/>
<rect x="773.36" y="450.20" width="57.68" height="4.80" fill="rgb(153, 18, 26)"/>
<rect x="773.36" y="453.40" width="57.68" height="4.80" fill="rgb(157, 19, 27)"/>
<rect x="773.36" y="456.60" width="57.68" height="5.20" fill="rgb(65, 1, 6)"/>
<rect x="773.36" y="460.20" width="57.68" height="4.40" fill="rgb(164, 21, 29)"/>
<rect x="773.36" y="463.00" width="57.68" height="4.40" fill="rgb(157, 19, 27)"/>
<rect x="773.36" y="465.80" width="57.68" height="4.40" fill="rgb(159, 20, 28)"/>
<rect x="773.36" y="468.60" width="57.68" height="5.20" fill="rgb(98, 5, 12)"/>
<rect x="773.36" y="472.20" width="57.68" height="4.40" fill="rgb(133, 13, 21)"/>
<rect x="773.36" y="475.00" width="57.68" height="4.40" fill="rgb(133, 13, 21)"/>
<rect x="773.36" y="477.80" width="57.68" height="4.40" fill="rgb(139, 14, 22)"/>
<rect x="773.36" y="480.60" width="57.68" height="4.80" fill="rgb(214, 27, 32)"/>
<rect x="773.36" y="483.80" width="57.68" height="4.80" fill="rgb(199, 28, 34)"/>
<rect x="773.36" y="487.00" width="57.68" height="4.80" fill="rgb(217, 27, 31)"/>
<rect x="773.36" y="490.20" width="57.68" height="4.60" fill="rgb(126, 11, 19)"/>
<rect x="773.36" y="493.20" width="57.68" height="4.60" fill="rgb(131, 12, 20)"/>
<rect x="773.36" y="496.20" width="57.68" height="4.60" fill="rgb(25, 0, 1)"/>
<rect x="773.36" y="499.19" width="57.68" height="4.60" fill="rgb(28, 0, 1)"/>
<rect x="773.36" y="502.19" width="57.68" height="5.20" fill="rgb(74, 2, 7)"/>
<rect x="773.36" y="505.79" width="57.68" height="5.20" fill="rgb(63, 1, 5)"/>
<rect x="773.36" y="509.39" width="57.68" height="4.30" fill="rgb(44, 0, 3)"/>
<rect x="773.36" y="512.09" width="57.68" height="4.30" fill="rgb(54, 1, 4)"/>
<rect x="773.36" y="514.79" width="57.68" height="4.30" fill="rgb(54, 1, 4)"/>
<rect x="773.36" y="517.49" width="57.68" height="4.30" fill="rgb(52, 1, 4)"/>
<rect x="773.36" y="520.19" width="57.68" height="5.20" fill="rgb(32, 0, 2)"/>
<rect x="773.36" y="523.79" width="57.68" height="5.20" fill="rgb(130, 12, 20)"/>
<rect x="773.36" y="527.39" width="57.68" height="4.40" fill="rgb(87, 3, 9)"/>
<rect x="773.36" y="530.19" width="57.68" height="4.40" fill="rgb(74, 2, 7)"/>
<rect x="773.36" y="532.99" width="57.68" height="4.40" fill="rgb(79, 2, 8)"/>
<rect x="773.36" y="535.79" width="57.68" height="4.80" fill="rgb(107, 7, 14)"/>
<rect x="773.36" y="538.99" width="57.68" height="4.80" fill="rgb(97, 5, 12)"/>
<rect x="773.36" y="542.19" width="57.68" height="4.80" fill="rgb(89, 3, 10)"/>
<rect x="773.36" y="545.39" width="57.68" height="4.60" fill="rgb(123, 10, 18)"/>
<rect x="773.36" y="548.39" width="57.68" height="4.60" fill="rgb(131, 12, 20)"/>
<rect x="773.36" y="551.39" width="57.68" height="4.60" fill="rgb(125, 11, 19)"/>
<rect x="773.36" y="554.39" width="57.68" height="4.60" fill="rgb(125, 11, 19)"/>
<rect x="773.36" y="557.39" width="57.68" height="5.20" fill="rgb(158, 20, 28)"/>
<rect x="773.36" y="560.99" width="57.68" height="5.20" fill="rgb(156, 19, 27)"/>
<rect x="773.36" y="564.59" width="57.68" height="4.40" fill="rgb(123, 10, 18)"/>
<rect x="773.36" y="567.39" width="57.68" height="4.40" fill="rgb(129, 12, 20)"/>
<rect x="773.36" y="570.19" width="57.68" height="4.40" fill="rgb(136, 14, 22)"/>
<rect x="773.36" y="572.99" width="57.68" height="5.20" fill="rgb(48, 0, 3)"/>
<rect x="773.36" y="576.59" width="57.68" height="4.40" fill="rgb(53, 1, 4)"/>
<rect x="773.36" y="579.39" width="57.68" height="4.40" fill="rgb(39, 0, 2)"/>
<rect x="773.36" y="582.19" width="57.68" height="4.40" fill="rgb(41, 0, 2)"/>
<rect x="773.36" y="584.99" width="57.68" height="4.40" fill="rgb(131, 12, 20)"/>
<rect x="773.36" y="587.79" width="57.68" height="4.40" fill="rgb(131, 12, 20)"/>
<rect x="773.36" y="590.59" width="57.68" height="4.40" fill="rgb(127, 11, 19)"/>
<rect x="773.36" y="593.39" width="57.68" height="4.56" fill="rgb(69, 1, 6)"/>
<rect x="773.36" y="596.34" width="57.68" height="4.56" fill="rgb(71, 1, 6)"/>
<rect x="773.36" y="599.30" width="57.68" height="4.56" fill="rgb(68, 1, 6)"/>
<rect x="773.36" y="602.26" width="57.68" height="4.56" fill="rgb(69, 1, 6)"/>
<rect x="773.36" y="605.22" width="57.68" height="4.56" fill="rgb(73, 2, 7)"/>
<rect x="773.36" y="608.17" width="57.68" height="4.56" fill="rgb(71, 1, 6)"/>
<rect x="773.36" y="611.13" width="57.68" height="4.56" fill="rgb(76, 2, 7)"/>
<rect x="773.36" y="614.09" width="57.68" height="4.56" fill="rgb(74, 2, 7)"/>
<rect x="773.36" y="617.04" width="57.68" height="4.56" fill="rgb(78, 2, 7)"/>
<rect x="773.36" y="620.08" width="57.68" height="4.78" fill="rgb(84, 2, 8)"/>
<rect x="773.36" y="623.26" width="57.68" height="4.78" fill="rgb(72, 2, 7)"/>
<rect x="773.36" y="626.44" width="57.68" height="4.78" fill="rgb(81, 2, 8)"/>
<rect x="773.36" y="629.62" width="57.68" height="4.78" fill="rgb(63, 1, 5)"/>
<rect x="773.36" y="632.80" width="57.68" height="4.30" fill="rgb(114, 8, 16)"/>
<rect x="773.36" y="635.50" width="57.68" height="4.30" fill="rgb(125, 11, 19)"/>
<rect x="773.36" y="638.20" width="57.68" height="4.30" fill="rgb(106, 7, 14)"/>
<rect x="773.36" y="640.90" width="57.68" height="4.30" fill="rgb(116, 9, 17)"/>
<rect x="773.36" y="643.60" width="57.68" height="4.60" fill="rgb(69, 1, 6)"/>
<rect x="773.36" y="646.60" width="57.68" height="4.60" fill="rgb(67, 1, 6)"/>
<rect x="773.36" y="649.59" width="57.68" height="4.60" fill="rgb(204, 28, 33)"/>
<rect x="773.36" y="652.59" width="57.68" height="4.60" fill="rgb(196, 27, 33)"/>
<rect x="773.36" y="655.59" width="57.68" height="4.60" fill="rgb(202, 28, 34)"/>
<rect x="773.36" y="658.59" width="57.68" height="4.60" fill="rgb(201, 28, 34)"/>
<rect x="773.36" y="661.59" width="57.68" height="4.60" fill="rgb(202, 28, 34)"/>
<rect x="773.36" y="664.59" width="57.68" height="4.60" fill="rgb(199, 28, 34)"/>
<rect x="773.36" y="667.59" width="57.68" height="4.60" fill="rgb(205, 28, 33)"/>
<rect x="773.36" y="670.59" width="57.68" height="4.60" fill="rgb(196, 27, 33)"/>
<rect x="773.36" y="673.59" width="57.68" height="5.00" fill="rgb(239, 25, 27)"/>
<rect x="773.36" y="677.00" width="57.68" height="5.00" fill="rgb(241, 24, 26)"/>
<rect x="830.64" y="69.32" width="57.68" height="4.64" fill="rgb(5, 65, 31)"/>
<rect x="830.64" y="72.36" width="57.68" height="4.64" fill="rgb(5, 67, 32)"/>
<rect x="830.64" y="75.40" width="57.68" height="4.64" fill="rgb(5, 70, 34)"/>
<rect x="830.64" y="78.44" width="57.68" height="4.64" fill="rgb(5, 70, 34)"/>
<rect x="830.64" y="81.48" width="57.68" height="4.64" fill="rgb(5, 65, 31)"/>
<rect x="830.64" y="84.52" width="57.68" height="4.64" fill="rgb(5, 68, 33)"/>
<rect x="830.64" y="87.56" width="57.68" height="4.64" fill="rgb(5, 69, 33)"/>
<rect x="830.64" y="90.60" width="57.68" height="4.64" fill="rgb(5, 65, 31)"/>
<rect x="830.64" y="93.64" width="57.68" height="4.64" fill="rgb(5, 68, 33)"/>
<rect x="830.64" y="96.68" width="57.68" height="4.64" fill="rgb(128, 11, 19)"/>
<rect x="830.64" y="99.72" width="57.68" height="4.64" fill="rgb(136, 14, 22)"/>
<rect x="830.64" y="102.76" width="57.68" height="4.64" fill="rgb(126, 11, 19)"/>
<rect x="830.64" y="105.80" width="57.68" height="5.20" fill="rgb(1, 12, 4)"/>
<rect x="830.64" y="109.40" width="57.68" height="4.36" fill="rgb(2, 23, 8)"/>
<rect x="830.64" y="112.16" width="57.68" height="4.36" fill="rgb(2, 33, 12)"/>
<rect x="830.64" y="114.92" width="57.68" height="4.96" fill="rgb(137, 14, 22)"/>
<rect x="830.64" y="118.28" width="57.68" height="4.96" fill="rgb(138, 14, 22)"/>
<rect x="830.64" y="121.64" width="57.68" height="4.96" fill="rgb(142, 15, 23)"/>
<rect x="830.64" y="125.00" width="57.68" height="4.00" fill="rgb(138, 14, 22)"/>
<rect x="830.64" y="127.40" width="57.68" height="4.00" fill="rgb(133, 13, 21)"/>
<rect x="830.64" y="129.79" width="57.68" height="4.00" fill="rgb(142, 15, 23)"/>
<rect x="830.64" y="132.19" width="57.68" height="4.00" fill="rgb(146, 16, 24)"/>
<rect x="830.64" y="134.59" width="57.68" height="4.00" fill="rgb(85, 3, 9)"/>
<rect x="830.64" y="136.99" width="57.68" height="4.00" fill="rgb(73, 2, 7)"/>
<rect x="830.64" y="139.39" width="57.68" height="4.80" fill="rgb(143, 15, 23)"/>
<rect x="830.64" y="142.59" width="57.68" height="4.80" fill="rgb(132, 13, 21)"/>
<rect x="830.64" y="145.79" width="57.68" height="4.80" fill="rgb(130, 12, 20)"/>
<rect x="830.64" y="148.99" width="57.68" height="4.30" fill="rgb(93, 4, 11)"/>
<rect x="830.64" y="151.69" width="57.68" height="4.30" fill="rgb(83, 2, 8)"/>
<rect x="830.64" y="154.39" width="57.68" height="4.30" fill="rgb(96, 5, 12)"/>
<rect x="830.64" y="157.09" width="57.68" height="4.30" fill="rgb(84, 2, 8)"/>
<rect x="830.64" y="159.79" width="57.68" height="5.20" fill="rgb(81, 2, 8)"/>
<rect x="830.64" y="163.39" width="57.68" height="5.20" fill="rgb(84, 2, 8)"/>
<rect x="830.64" y="166.99" width="57.68" height="4.78" fill="rgb(132, 13, 21)"/>
<rect x="830.64" y="170.17" width="57.68" height="4.78" fill="rgb(113, 8, 16)"/>
<rect x="830.64" y="173.35" width="57.68" height="4.78" fill="rgb(117, 9, 17)"/>
<rect x="830.64" y="176.53" width="57.68" height="4.78" fill="rgb(125, 11, 19)"/>
<rect x="830.64" y="179.71" width="57.68" height="4.58" fill="rgb(40, 0, 2)"/>
<rect x="830.64" y="182.69" width="57.68" height="4.58" fill="rgb(48, 0, 3)"/>
<rect x="830.64" y="185.66" width="57.68" height="4.58" fill="rgb(39, 0, 2)"/>
<rect x="830.64" y="188.64" width="57.68" height="4.58" fill="rgb(58, 1, 5)"/>
<rect x="830.64" y="191.61" width="57.68" height="4.58" fill="rgb(37, 0, 2)"/>
<rect x="830.64" y="194.59" width="57.68" height="4.80" fill="rgb(117, 9, 17)"/>
<rect x="830.64" y="197.79" width="57.68" height="4.80" fill="rgb(114, 8, 16)"/>
<rect x="830.64" y="200.99" width="57.68" height="4.80" fill="rgb(114, 8, 16)"/>
<rect x="830.64" y="204.19" width="57.68" height="4.72" fill="rgb(71, 1, 6)"/>
<rect x="830.64" y="207.31" width="57.68" height="4.72" fill="rgb(78, 2, 7)"/>
<rect x="830.64" y="210.43" width="57.68" height="4.72" fill="rgb(78, 2, 7)"/>
<rect x="830.64" y="213.55" width="57.68" height="4.72" fill="rgb(78, 2, 7)"/>
<rect x="830.64" y="216.67" width="57.68" height="4.72" fill="rgb(86, 3, 9)"/>
<rect x="830.64" y="219.79" width="57.68" height="4.90" fill="rgb(42, 0, 2)"/>
<rect x="830.64" y="223.09" width="57.68" height="4.90" fill="rgb(60, 1, 5)"/>
<rect x="830.64" y="226.39" width="57.68" height="4.90" fill="rgb(58, 1, 5)"/>
<rect x="830.64" y="229.69" width="57.68" height="4.90" fill="rgb(41, 0, 2)"/>
<rect x="830.64" y="232.99" width="57.68" height="4.00" fill="rgb(15, 0, 1)"/>
<rect x="830.64" y="235.39" width="57.68" height="4.00" fill="rgb(35, 0, 2)"/>
<rect x="830.64" y="237.79" width="57.68" height="4.65" fill="rgb(85, 3, 9)"/>
<rect x="830.64" y="240.84" width="57.68" height="4.65" fill="rgb(67, 1, 6)"/>
<rect x="830.64" y="243.89" width="57.68" height="4.65" fill="rgb(63, 1, 5)"/>
<rect x="830.64" y="246.95" width="57.68" height="4.65" fill="rgb(67, 1, 6)"/>
<rect x="830.64" y="250.00" width="57.68" height="4.96" fill="rgb(94, 4, 11)"/>
<rect x="830.64" y="253.36" width="57.68" height="4.96" fill="rgb(84, 2, 8)"/>
<rect x="830.64" y="256.72" width="57.68" height="4.24" fill="rgb(36, 0, 2)"/>
<rect x="830.64" y="259.36" width="57.68" height="4.24" fill="rgb(47, 0, 3)"/>
<rect x="830.64" y="262.00" width="57.68" height="4.60" fill="rgb(71, 1, 6)"/>
<rect x="830.64" y="265.00" width="57.68" height="4.60" fill="rgb(82, 2, 8)"/>
<rect x="830.64" y="268.00" width="57.68" height="4.90" fill="rgb(95, 5, 11)"/>
<rect x="830.64" y="271.30" width="57.68" height="4.90" fill="rgb(88, 3, 9)"/>
<rect x="830.64" y="274.60" width="57.68" height="4.90" fill="rgb(89, 3, 10)"/>
<rect x="830.64" y="277.90" width="57.68" height="4.90" fill="rgb(80, 2, 8)"/>
<rect x="830.64" y="281.20" width="57.68" height="5.20" fill="rgb(90, 4, 10)"/>
<rect x="830.64" y="284.80" width="57.68" height="5.20" fill="rgb(75, 2, 7)"/>
<rect x="830.64" y="288.40" width="57.68" height="4.00" fill="rgb(98, 5, 12)"/>
<rect x="830.64" y="290.80" width="57.68" height="4.00" fill="rgb(87, 3, 9)"/>
<rect x="830.64" y="293.20" width="57.68" height="4.60" fill="rgb(73, 2, 7)"/>
<rect x="830.64" y="296.20" width="57.68" height="4.60" fill="rgb(78, 2, 7)"/>
<rect x="830.64" y="299.20" width="57.68" height="4.60" fill="rgb(72, 2, 7)"/>
<rect x="830.64" y="302.20" width="57.68" height="4.60" fill="rgb(73, 2, 7)"/>
<rect x="830.64" y="305.20" width="57.68" height="4.00" fill="rgb(127, 11, 19)"/>
<rect x="830.64" y="307.60" width="57.68" height="4.00" fill="rgb(132, 13, 21)"/>
<rect x="830.64" y="310.00" width="57.68" height="4.00" fill="rgb(90, 4, 10)"/>
<rect x="830.64" y="312.40" width="57.68" height="4.00" fill="rgb(81, 2, 8)"/>
<rect x="830.64" y="314.79" width="57.68" height="4.00" fill="rgb(29, 0, 1)"/>
<rect x="830.64" y="317.19" width="57.68" height="4.00" fill="rgb(30, 0, 1)"/>
<rect x="830.64" y="319.59" width="57.68" height="4.00" fill="rgb(155, 19, 27)"/>
<rect x="830.64" y="321.99" width="57.68" height="4.00" fill="rgb(151, 18, 26)"/>
<rect x="830.64" y="324.39" width="57.68" height="5.20" fill="rgb(65, 1, 6)"/>
<rect x="830.64" y="327.99" width="57.68" height="4.53" fill="rgb(150, 17, 25)"/>
<rect x="830.64" y="330.93" width="57.68" height="4.53" fill="rgb(151, 18, 26)"/>
<rect x="830.64" y="333.86" width="57.68" height="4.53" fill="rgb(156, 19, 27)"/>
<rect x="830.64" y="336.79" width="57.68" height="4.53" fill="rgb(153, 18, 26)"/>
<rect x="830.64" y="339.73" width="57.68" height="4.53" fill="rgb(149, 17, 25)"/>
<rect x="830.64" y="342.66" width="57.68" height="4.53" fill="rgb(147, 17, 25)"/>
<rect x="830.64" y="345.59" width="57.68" height="4.53" fill="rgb(153, 18, 26)"/>
<rect x="830.64" y="348.53" width="57.68" height="4.53" fill="rgb(152, 18, 26)"/>
<rect x="830.64" y="351.46" width="57.68" height="4.53" fill="rgb(154, 18, 26)"/>
<rect x="830.64" y="354.39" width="57.68" height="4.60" fill="rgb(8, 0, 0)"/>
<rect x="830.64" y="357.39" width="57.68" height="4.60" fill="rgb(18, 0, 1)"/>
<rect x="830.64" y="360.39" width="57.68" height="5.20" fill="rgb(2, 31, 11)"/>
<rect x="830.64" y="363.99" width="57.68" height="5.20" fill="rgb(3, 36, 14)"/>
<rect x="830.64" y="367.59" width="57.68" height="4.48" fill="rgb(1, 18, 6)"/>
<rect x="830.64" y="370.47" width="57.68" height="4.48" fill="rgb(2, 26, 9)"/>
<rect x="830.64" y="373.35" width="57.68" height="4.48" fill="rgb(2, 27, 9)"/>
<rect x="830.64" y="376.23" width="57.68" height="4.48" fill="rgb(2, 32, 11)"/>
<rect x="830.64" y="379.11" width="57.68" height="4.48" fill="rgb(1, 20, 7)"/>
<rect x="830.64" y="381.99" width="57.68" height="4.80" fill="rgb(67, 1, 6)"/>
<rect x="830.64" y="385.19" width="57.68" height="4.80" fill="rgb(63, 1, 5)"/>
<rect x="830.64" y="388.39" width="57.68" height="4.80" fill="rgb(73, 2, 7)"/>
<rect x="830.64" y="391.59" width="57.68" height="5.20" fill="rgb(123, 10, 18)"/>
<rect x="830.64" y="395.19" width="57.68" height="5.20" fill="rgb(123, 10, 18)"/>
<rect x="830.64" y="398.79" width="57.68" height="4.40" fill="rgb(59, 1, 5)"/>
<rect x="830.64" y="401.59" width="57.68" height="4.40" fill="rgb(63, 1, 5)"/>
<rect x="830.64" y="404.39" width="57.68" height="4.40" fill="rgb(58, 1, 5)"/>
<rect x="830.64" y="407.19" width="57.68" height="4.60" fill="rgb(149, 17, 25)"/>
<rect x="830.64" y="410.19" width="57.68" height="4.60" fill="rgb(144, 16, 24)"/>
<rect x="830.64" y="413.19" width="57.68" height="4.60" fill="rgb(161, 20, 28)"/>
<rect x="830.64" y="416.19" width="57.68" height="4.60" fill="rgb(154, 19, 27)"/>
<rect x="830.64" y="419.19" width="57.68" height="4.60" fill="rgb(159, 20, 28)"/>
<rect x="830.64" y="422.19" width="57.68" height="4.60" fill="rgb(148, 17, 25)"/>
<rect x="830.64" y="425.19" width="57.68" height="4.87" fill="rgb(77, 2, 7)"/>
<rect x="830.64" y="428.46" width="57.68" height="4.87" fill="rgb(76, 2, 7)"/>
<rect x="830.64" y="431.73" width="57.68" height="4.87" fill="rgb(72, 2, 7)"/>
<rect x="830.64" y="435.00" width="57.68" height="4.60" fill="rgb(76, 2, 7)"/>
<rect x="830.64" y="438.00" width="57.68" height="4.60" fill="rgb(65, 1, 6)"/>
<rect x="830.64" y="441.00" width="57.68" height="4.60" fill="rgb(154, 18, 26)"/>
<rect x="830.64" y="444.00" width="57.68" height="4.60" fill="rgb(142, 15, 23)"/>
<rect x="830.64" y="447.00" width="57.68" height="4.00" fill="rgb(126, 11, 19)"/>
<rect x="830.64" y="449.40" width="57.68" height="4.00" fill="rgb(140, 15, 23)"/>
<rect x="830.64" y="451.80" width="57.68" height="5.20" fill="rgb(110, 8, 15)"/>
<rect x="830.64" y="455.40" width="57.68" height="5.20" fill="rgb(104, 6, 14)"/>
<rect x="830.64" y="459.00" width="57.68" height="4.80" fill="rgb(89, 3, 10)"/>
<rect x="830.64" y="462.20" width="57.68" height="4.80" fill="rgb(81, 2, 8)"/>
<rect x="830.64" y="465.40" width="57.68" height="4.80" fill="rgb(93, 4, 11)"/>
<rect x="830.64" y="468.60" width="57.68" height="4.60" fill="rgb(144, 16, 24)"/>
<rect x="830.64" y="471.60" width="57.68" height="4.60" fill="rgb(156, 19, 27)"/>
<rect x="830.64" y="474.60" width="57.68" height="4.60" fill="rgb(142, 15, 23)"/>
<rect x="830.64" y="477.60" width="57.68" height="4.60" fill="rgb(152, 18, 26)"/>
<rect x="830.64" y="480.60" width="57.68" height="4.80" fill="rgb(73, 2, 7)"/>
<rect x="830.64" y="483.80" width="57.68" height="4.80" fill="rgb(66, 1, 6)"/>
<rect x="830.64" y="487.00" width="57.68" height="4.80" fill="rgb(74, 2, 7)"/>
<rect x="830.64" y="490.20" width="57.68" height="4.00" fill="rgb(110, 8, 15)"/>
<rect x="830.64" y="492.60" width="57.68" height="4.00" fill="rgb(123, 10, 18)"/>
<rect x="830.64" y="495.00" width="57.68" height="4.60" fill="rgb(30, 0, 1)"/>
<rect x="830.64" y="497.99" width="57.68" height="4.60" fill="rgb(20, 0, 1)"/>
<rect x="830.64" y="500.99" width="57.68" height="4.60" fill="rgb(24, 0, 1)"/>
<rect x="830.64" y="503.99" width="57.68" height="4.60" fill="rgb(21, 0, 1)"/>
<rect x="830.64" y="506.99" width="57.68" height="4.30" fill="rgb(61, 1, 5)"/>
<rect x="830.64" y="509.69" width="57.68" height="4.30" fill="rgb(54, 1, 4)"/>
<rect x="830.64" y="512.39" width="57.68" height="4.30" fill="rgb(63, 1, 5)"/>
<rect x="830.64" y="515.09" width="57.68" height="4.30" fill="rgb(60, 1, 5)"/>
<rect x="830.64" y="517.79" width="57.68" height="4.00" fill="rgb(4, 0, 0)"/>
<rect x="830.64" y="520.19" width="57.68" height="4.00" fill="rgb(0, 1, 0)"/>
<rect x="830.64" y="522.59" width="57.68" height="4.90" fill="rgb(24, 0, 1)"/>
<rect x="830.64" y="525.89" width="57.68" height="4.90" fill="rgb(25, 0, 1)"/>
<rect x="830.64" y="529.19" width="57.68" height="4.90" fill="rgb(25, 0, 1)"/>
<rect x="830.64" y="532.49" width="57.68" height="4.90" fill="rgb(30, 0, 2)"/>
<rect x="830.64" y="535.79" width="57.68" height="4.60" fill="rgb(143, 15, 23)"/>
<rect x="830.64" y="538.79" width="57.68" height="4.60" fill="rgb(152, 18, 26)"/>
<rect x="830.64" y="541.79" width="57.68" height="4.30" fill="rgb(90, 4, 10)"/>
<rect x="830.64" y="544.49" width="57.68" height="4.30" fill="rgb(79, 2, 8)"/>
<rect x="830.64" y="547.19" width="57.68" height="4.30" fill="rgb(92, 4, 10)"/>
<rect x="830.64" y="549.89" width="57.68" height="4.30" fill="rgb(79, 2, 8)"/>
<rect x="830.64" y="552.59" width="57.68" height="4.00" fill="rgb(107, 7, 14)"/>
<rect x="830.64" y="554.99" width="57.68" height="4.00" fill="rgb(121, 10, 18)"/>
<rect x="830.64" y="557.39" width="57.68" height="5.20" fill="rgb(64, 1, 5)"/>
<rect x="830.64" y="560.99" width="57.68" height="5.20" fill="rgb(64, 1, 5)"/>
<rect x="830.64" y="564.59" width="57.68" height="4.40" fill="rgb(87, 3, 9)"/>
<rect x="830.64" y="567.39" width="57.68" height="4.40" fill="rgb(78, 2, 7)"/>
<rect x="830.64" y="570.19" width="57.68" height="4.40" fill="rgb(89, 3, 10)"/>
<rect x="830.64" y="572.99" width="57.68" height="4.73" fill="rgb(160, 20, 28)"/>
<rect x="830.64" y="576.12" width="57.68" height="4.73" fill="rgb(163, 21, 28)"/>
<rect x="830.64" y="579.26" width="57.68" height="4.73" fill="rgb(165, 21, 29)"/>
<rect x="830.64" y="582.39" width="57.68" height="4.73" fill="rgb(162, 20, 28)"/>
<rect x="830.64" y="585.53" width="57.68" height="4.73" fill="rgb(165, 21, 29)"/>
<rect x="830.64" y="588.66" width="57.68" height="4.73" fill="rgb(155, 19, 27)"/>
<rect x="830.64" y="591.79" width="57.68" height="4.73" fill="rgb(157, 19, 27)"/>
<rect x="830.64" y="594.93" width="57.68" height="4.73" fill="rgb(163, 21, 28)"/>
<rect x="830.64" y="598.06" width="57.68" height="4.73" fill="rgb(164, 21, 29)"/>
<rect x="830.64" y="601.20" width="57.68" height="4.73" fill="rgb(156, 19, 27)"/>
<rect x="830.64" y="604.33" width="57.68" height="4.73" fill="rgb(162, 20, 28)"/>
<rect x="830.64" y="607.46" width="57.68" height="4.73" fill="rgb(162, 20, 28)"/>
<rect x="830.64" y="610.60" width="57.68" height="4.73" fill="rgb(158, 19, 27)"/>
<rect x="830.64" y="613.73" width="57.68" height="4.73" fill="rgb(161, 20, 28)"/>
<rect x="830.64" y="616.87" width="57.68" height="4.73" fill="rgb(163, 21, 29)"/>
<rect x="830.64" y="620.08" width="57.68" height="4.52" fill="rgb(151, 18, 26)"/>
<rect x="830.64" y="623.00" width="57.68" height="4.52" fill="rgb(163, 21, 28)"/>
<rect x="830.64" y="625.92" width="57.68" height="4.52" fill="rgb(150, 17, 25)"/>
<rect x="830.64" y="628.84" width="57.68" height="4.52" fill="rgb(159, 20, 28)"/>
<rect x="830.64" y="631.76" width="57.68" height="4.52" fill="rgb(168, 22, 29)"/>
<rect x="830.64" y="634.68" width="57.68" height="4.52" fill="rgb(163, 21, 28)"/>
<rect x="830.64" y="637.60" width="57.68" height="4.60" fill="rgb(155, 19, 27)"/>
<rect x="830.64" y="640.60" width="57.68" height="4.60" fill="rgb(134, 13, 21)"/>
<rect x="830.64" y="643.60" width="57.68" height="4.60" fill="rgb(138, 14, 22)"/>
<rect x="830.64" y="646.60" width="57.68" height="4.60" fill="rgb(151, 18, 26)"/>
<rect x="830.64" y="649.59" width="57.68" height="4.60" fill="rgb(99, 5, 12)"/>
<rect x="830.64" y="652.59" width="57.68" height="4.60" fill="rgb(86, 3, 9)"/>
<rect x="830.64" y="655.59" width="57.68" height="4.60" fill="rgb(69, 1, 6)"/>
<rect x="830.64" y="658.59" width="57.68" height="4.60" fill="rgb(72, 2, 7)"/>
<rect x="830.64" y="661.59" width="57.68" height="4.60" fill="rgb(81, 2, 8)"/>
<rect x="830.64" y="664.59" width="57.68" height="4.60" fill="rgb(67, 1, 6)"/>
<rect x="830.64" y="667.59" width="57.68" height="4.80" fill="rgb(44, 0, 3)"/>
<rect x="830.64" y="670.80" width="57.68" height="4.80" fill="rgb(51, 1, 4)"/>
<rect x="830.64" y="674.00" width="57.68" height="4.80" fill="rgb(50, 0, 3)"/>
<rect x="830.64" y="677.20" width="57.68" height="4.80" fill="rgb(32, 0, 2)"/>
<rect x="887.92" y="69.32" width="57.68" height="4.64" fill="rgb(2, 35, 13)"/>
<rect x="887.92" y="72.36" width="57.68" height="4.64" fill="rgb(3, 42, 18)"/>
<rect x="887.92" y="75.40" width="57.68" height="4.64" fill="rgb(3, 41, 17)"/>
<rect x="887.92" y="78.44" width="57.68" height="4.64" fill="rgb(3, 42, 17)"/>
<rect x="887.92" y="81.48" width="57.68" height="4.64" fill="rgb(3, 36, 14)"/>
<rect x="887.92" y="84.52" width="57.68" height="4.64" fill="rgb(3, 39, 16)"/>
<rect x="887.92" y="87.56" width="57.68" height="4.64" fill="rgb(3, 39, 16)"/>
<rect x="887.92" y="90.60" width="57.68" height="4.64" fill="rgb(2, 35, 13)"/>
<rect x="887.92" y="93.64" width="57.68" height="4.64" fill="rgb(3, 41, 17)"/>
<rect x="887.92" y="96.68" width="57.68" height="4.96" fill="rgb(49, 0, 3)"/>
<rect x="887.92" y="100.04" width="57.68" height="4.96" fill="rgb(47, 0, 3)"/>
<rect x="887.92" y="103.40" width="57.68" height="5.20" fill="rgb(0, 0, 0)"/>
<rect x="887.92" y="107.00" width="57.68" height="4.24" fill="rgb(22, 0, 1)"/>
<rect x="887.92" y="109.64" width="57.68" height="4.24" fill="rgb(9, 0, 0)"/>
<rect x="887.92" y="112.28" width="57.68" height="4.24" fill="rgb(26, 0, 1)"/>
<rect x="887.92" y="114.92" width="57.68" height="4.96" fill="rgb(68, 1, 6)"/>
<rect x="887.92" y="118.28" width="57.68" height="4.96" fill="rgb(74, 2, 7)"/>
<rect x="887.92" y="121.64" width="57.68" height="4.96" fill="rgb(56, 1, 4)"/>
<rect x="887.92" y="125.00" width="57.68" height="4.48" fill="rgb(0, 2, 1)"/>
<rect x="887.92" y="127.87" width="57.68" height="4.48" fill="rgb(0, 1, 0)"/>
<rect x="887.92" y="130.75" width="57.68" height="4.48" fill="rgb(2, 0, 0)"/>
<rect x="887.92" y="133.63" width="57.68" height="4.48" fill="rgb(0, 0, 0)"/>
<rect x="887.92" y="136.51" width="57.68" height="4.48" fill="rgb(2, 0, 0)"/>
<rect x="887.92" y="139.39" width="57.68" height="5.20" fill="rgb(74, 2, 7)"/>
<rect x="887.92" y="142.99" width="57.68" height="4.00" fill="rgb(30, 0, 1)"/>
<rect x="887.92" y="145.39" width="57.68" height="4.00" fill="rgb(36, 0, 2)"/>
<rect x="887.92" y="147.79" width="57.68" height="4.00" fill="rgb(0, 5, 2)"/>
<rect x="887.92" y="150.19" width="57.68" height="4.00" fill="rgb(1, 13, 4)"/>
<rect x="887.92" y="152.59" width="57.68" height="4.40" fill="rgb(2, 23, 8)"/>
<rect x="887.92" y="155.39" width="57.68" height="4.40" fill="rgb(2, 31, 11)"/>
<rect x="887.92" y="158.19" width="57.68" height="4.40" fill="rgb(2, 32, 11)"/>
<rect x="887.92" y="160.99" width="57.68" height="4.60" fill="rgb(7, 0, 0)"/>
<rect x="887.92" y="163.99" width="57.68" height="4.60" fill="rgb(5, 0, 0)"/>
<rect x="887.92" y="166.99" width="57.68" height="5.20" fill="rgb(57, 1, 4)"/>
<rect x="887.92" y="170.59" width="57.68" height="4.64" fill="rgb(1, 0, 0)"/>
<rect x="887.92" y="173.63" width="57.68" height="4.64" fill="rgb(0, 2, 1)"/>
<rect x="887.92" y="176.67" width="57.68" height="4.64" fill="rgb(4, 0, 0)"/>
<rect x="887.92" y="179.71" width="57.68" height="4.58" fill="rgb(3, 46, 20)"/>
<rect x="887.92" y="182.69" width="57.68" height="4.58" fill="rgb(4, 52, 24)"/>
<rect x="887.92" y="185.66" width="57.68" height="4.58" fill="rgb(3, 44, 19)"/>
<rect x="887.92" y="188.64" width="57.68" height="4.58" fill="rgb(5, 57, 27)"/>
<rect x="887.92" y="191.61" width="57.68" height="4.58" fill="rgb(4, 49, 22)"/>
<rect x="887.92" y="194.59" width="57.68" height="4.80" fill="rgb(68, 1, 6)"/>
<rect x="887.92" y="197.79" width="57.68" height="4.80" fill="rgb(82, 2, 8)"/>
<rect x="887.92" y="200.99" width="57.68" height="4.80" fill="rgb(63, 1, 5)"/>
<rect x="887.92" y="204.19" width="57.68" height="4.48" fill="rgb(18, 0, 1)"/>
<rect x="887.92" y="207.07" width="57.68" height="4.48" fill="rgb(23, 0, 1)"/>
<rect x="887.92" y="209.95" width="57.68" height="4.48" fill="rgb(18, 0, 1)"/>
<rect x="887.92" y="212.83" width="57.68" height="4.48" fill="rgb(20, 0, 1)"/>
<rect x="887.92" y="215.71" width="57.68" height="4.48" fill="rgb(30, 0, 1)"/>
<rect x="887.92" y="218.59" width="57.68" height="4.80" fill="rgb(0, 2, 1)"/>
<rect x="887.92" y="221.79" width="57.68" height="4.80" fill="rgb(2, 0, 0)"/>
<rect x="887.92" y="224.99" width="57.68" height="4.80" fill="rgb(2, 0, 0)"/>
<rect x="887.92" y="228.19" width="57.68" height="5.20" fill="rgb(3, 43, 18)"/>
<rect x="887.92" y="231.79" width="57.68" height="5.20" fill="rgb(4, 52, 23)"/>
<rect x="887.92" y="235.39" width="57.68" height="4.40" fill="rgb(0, 5, 2)"/>
<rect x="887.92" y="238.19" width="57.68" height="4.40" fill="rgb(0, 3, 1)"/>
<rect x="887.92" y="240.99" width="57.68" height="4.40" fill="rgb(0, 6, 2)"/>
<rect x="887.92" y="243.79" width="57.68" height="5.20" fill="rgb(3, 36, 14)"/>
<rect x="887.92" y="247.39" width="57.68" height="4.21" fill="rgb(1, 0, 0)"/>
<rect x="887.92" y="250.00" width="57.68" height="4.80" fill="rgb(12, 0, 1)"/>
<rect x="887.92" y="253.20" width="57.68" height="4.80" fill="rgb(12, 0, 1)"/>
<rect x="887.92" y="256.40" width="57.68" height="4.80" fill="rgb(5, 0, 0)"/>
<rect x="887.92" y="259.60" width="57.68" height="4.60" fill="rgb(65, 1, 6)"/>
<rect x="887.92" y="262.60" width="57.68" height="4.60" fill="rgb(55, 1, 4)"/>
<rect x="887.92" y="265.60" width="57.68" height="4.30" fill="rgb(0, 2, 1)"/>
<rect x="887.92" y="268.30" width="57.68" height="4.30" fill="rgb(0, 0, 0)"/>
<rect x="887.92" y="271.00" width="57.68" height="4.30" fill="rgb(0, 0, 0)"/>
<rect x="887.92" y="273.70" width="57.68" height="4.30" fill="rgb(3, 0, 0)"/>
<rect x="887.92" y="276.40" width="57.68" height="4.72" fill="rgb(16, 0, 1)"/>
<rect x="887.92" y="279.52" width="57.68" height="4.72" fill="rgb(23, 0, 1)"/>
<rect x="887.92" y="282.64" width="57.68" height="4.72" fill="rgb(33, 0, 2)"/>
<rect x="887.92" y="285.76" width="57.68" height="4.72" fill="rgb(23, 0, 1)"/>
<rect x="887.92" y="288.88" width="57.68" height="4.72" fill="rgb(17, 0, 1)"/>
<rect x="887.92" y="292.00" width="57.68" height="4.00" fill="rgb(2, 30, 10)"/>
<rect x="887.92" y="294.40" width="57.68" height="4.00" fill="rgb(2, 25, 8)"/>
<rect x="887.92" y="296.80" width="57.68" height="4.60" fill="rgb(0, 1, 0)"/>
<rect x="887.92" y="299.80" width="57.68" height="4.60" fill="rgb(1, 0, 0)"/>
<rect x="887.92" y="302.80" width="57.68" height="4.60" fill="rgb(0, 0, 0)"/>
<rect x="887.92" y="305.80" width="57.68" height="4.60" fill="rgb(0, 0, 0)"/>
<rect x="887.92" y="308.80" width="57.68" height="4.60" fill="rgb(0, 2, 1)"/>
<rect x="887.92" y="311.80" width="57.68" height="4.60" fill="rgb(0, 2, 1)"/>
<rect x="887.92" y="314.79" width="57.68" height="5.20" fill="rgb(13, 0, 1)"/>
<rect x="887.92" y="318.39" width="57.68" height="5.20" fill="rgb(21, 0, 1)"/>
<rect x="887.92" y="321.99" width="57.68" height="4.00" fill="rgb(3, 0, 0)"/>
<rect x="887.92" y="324.39" width="57.68" height="4.00" fill="rgb(4, 0, 0)"/>
<rect x="887.92" y="326.79" width="57.68" height="5.20" fill="rgb(114, 8, 16)"/>
<rect x="887.92" y="330.39" width="57.68" height="5.20" fill="rgb(24, 0, 1)"/>
<rect x="887.92" y="333.99" width="57.68" height="4.60" fill="rgb(82, 2, 8)"/>
<rect x="887.92" y="336.99" width="57.68" height="4.60" fill="rgb(71, 1, 6)"/>
<rect x="887.92" y="339.99" width="57.68" height="5.20" fill="rgb(24, 0, 1)"/>
<rect x="887.92" y="343.59" width="57.68" height="4.30" fill="rgb(101, 6, 13)"/>
<rect x="887.92" y="346.29" width="57.68" height="4.30" fill="rgb(90, 4, 10)"/>
<rect x="887.92" y="348.99" width="57.68" height="4.30" fill="rgb(87, 3, 9)"/>
<rect x="887.92" y="351.69" width="57.68" height="4.30" fill="rgb(108, 7, 15)"/>
<rect x="887.92" y="354.39" width="57.68" height="4.84" fill="rgb(5, 58, 28)"/>
<rect x="887.92" y="357.63" width="57.68" height="4.84" fill="rgb(3, 41, 17)"/>
<rect x="887.92" y="360.87" width="57.68" height="4.96" fill="rgb(7, 0, 0)"/>
<rect x="887.92" y="364.23" width="57.68" height="4.96" fill="rgb(7, 0, 0)"/>
<rect x="887.92" y="367.59" width="57.68" height="5.20" fill="rgb(33, 0, 2)"/>
<rect x="887.92" y="371.19" width="57.68" height="5.20" fill="rgb(32, 0, 2)"/>
<rect x="887.92" y="374.79" width="57.68" height="4.60" fill="rgb(0, 2, 1)"/>
<rect x="887.92" y="377.79" width="57.68" height="4.60" fill="rgb(3, 0, 0)"/>
<rect x="887.92" y="380.79" width="57.68" height="4.90" fill="rgb(34, 0, 2)"/>
<rect x="887.92" y="384.09" width="57.68" height="4.90" fill="rgb(39, 0, 2)"/>
<rect x="887.92" y="387.39" width="57.68" height="4.90" fill="rgb(31, 0, 2)"/>
<rect x="887.92" y="390.69" width="57.68" height="4.90" fill="rgb(27, 0, 1)"/>
<rect x="887.92" y="393.99" width="57.68" height="4.60" fill="rgb(28, 0, 1)"/>
<rect x="887.92" y="396.99" width="57.68" height="4.60" fill="rgb(24, 0, 1)"/>
<rect x="887.92" y="399.99" width="57.68" height="5.20" fill="rgb(0, 1, 0)"/>
<rect x="887.92" y="403.59" width="57.68" height="5.20" fill="rgb(0, 3, 1)"/>
<rect x="887.92" y="407.19" width="57.68" height="4.40" fill="rgb(43, 0, 2)"/>
<rect x="887.92" y="409.99" width="57.68" height="4.40" fill="rgb(25, 0, 1)"/>
<rect x="887.92" y="412.79" width="57.68" height="4.40" fill="rgb(38, 0, 2)"/>
<rect x="887.92" y="415.59" width="57.68" height="4.80" fill="rgb(50, 0, 3)"/>
<rect x="887.92" y="418.79" width="57.68" height="4.80" fill="rgb(59, 1, 5)"/>
<rect x="887.92" y="421.99" width="57.68" height="4.80" fill="rgb(54, 1, 4)"/>
<rect x="887.92" y="425.19" width="57.68" height="5.20" fill="rgb(3, 36, 14)"/>
<rect x="887.92" y="428.79" width="57.68" height="4.71" fill="rgb(0, 1, 0)"/>
<rect x="887.92" y="431.89" width="57.68" height="4.71" fill="rgb(0, 1, 0)"/>
<rect x="887.92" y="435.00" width="57.68" height="4.60" fill="rgb(0, 3, 1)"/>
<rect x="887.92" y="438.00" width="57.68" height="4.60" fill="rgb(0, 0, 0)"/>
<rect x="887.92" y="441.00" width="57.68" height="4.72" fill="rgb(30, 0, 2)"/>
<rect x="887.92" y="444.12" width="57.68" height="4.72" fill="rgb(47, 0, 3)"/>
<rect x="887.92" y="447.24" width="57.68" height="4.72" fill="rgb(39, 0, 2)"/>
<rect x="887.92" y="450.36" width="57.68" height="4.72" fill="rgb(40, 0, 2)"/>
<rect x="887.92" y="453.48" width="57.68" height="4.72" fill="rgb(46, 0, 3)"/>
<rect x="887.92" y="456.60" width="57.68" height="4.00" fill="rgb(3, 0, 0)"/>
<rect x="887.92" y="459.00" width="57.68" height="5.20" fill="rgb(93, 4, 11)"/>
<rect x="887.92" y="462.60" width="57.68" height="5.20" fill="rgb(82, 2, 8)"/>
<rect x="887.92" y="466.20" width="57.68" height="5.20" fill="rgb(40, 0, 2)"/>
<rect x="887.92" y="469.80" width="57.68" height="4.30" fill="rgb(71, 1, 6)"/>
<rect x="887.92" y="472.50" width="57.68" height="4.30" fill="rgb(77, 2, 7)"/>
<rect x="887.92" y="475.20" width="57.68" height="4.30" fill="rgb(69, 1, 6)"/>
<rect x="887.92" y="477.90" width="57.68" height="4.30" fill="rgb(64, 1, 5)"/>
<rect x="887.92" y="480.60" width="57.68" height="4.80" fill="rgb(16, 0, 1)"/>
<rect x="887.92" y="483.80" width="57.68" height="4.80" fill="rgb(31, 0, 2)"/>
<rect x="887.92" y="487.00" width="57.68" height="4.80" fill="rgb(15, 0, 1)"/>
<rect x="887.92" y="490.20" width="57.68" height="4.00" fill="rgb(63, 1, 5)"/>
<rect x="887.92" y="492.60" width="57.68" height="4.00" fill="rgb(55, 1, 4)"/>
<rect x="887.92" y="495.00" width="57.68" height="4.60" fill="rgb(19, 0, 1)"/>
<rect x="887.92" y="497.99" width="57.68" height="4.60" fill="rgb(19, 0, 1)"/>
<rect x="887.92" y="500.99" width="57.68" height="4.60" fill="rgb(19, 0, 1)"/>
<rect x="887.92" y="503.99" width="57.68" height="4.60" fill="rgb(25, 0, 1)"/>
<rect x="887.92" y="506.99" width="57.68" height="4.30" fill="rgb(5, 61, 29)"/>
<rect x="887.92" y="509.69" width="57.68" height="4.30" fill="rgb(5, 67, 33)"/>
<rect x="887.92" y="512.39" width="57.68" height="4.30" fill="rgb(5, 69, 33)"/>
<rect x="887.92" y="515.09" width="57.68" height="4.30" fill="rgb(5, 62, 30)"/>
<rect x="887.92" y="517.79" width="57.68" height="5.20" fill="rgb(48, 0, 3)"/>
<rect x="887.92" y="521.39" width="57.68" height="4.60" fill="rgb(1, 12, 4)"/>
<rect x="887.92" y="524.39" width="57.68" height="4.60" fill="rgb(1, 8, 3)"/>
<rect x="887.92" y="527.39" width="57.68" height="4.40" fill="rgb(1, 15, 5)"/>
<rect x="887.92" y="530.19" width="57.68" height="4.40" fill="rgb(1, 21, 7)"/>
<rect x="887.92" y="532.99" width="57.68" height="4.40" fill="rgb(1, 20, 7)"/>
<rect x="887.92" y="535.79" width="57.68" height="4.60" fill="rgb(2, 25, 8)"/>
<rect x="887.92" y="538.79" width="57.68" height="4.60" fill="rgb(2, 33, 12)"/>
<rect x="887.92" y="541.79" width="57.68" height="4.30" fill="rgb(32, 0, 2)"/>
<rect x="887.92" y="544.49" width="57.68" height="4.30" fill="rgb(47, 0, 3)"/>
<rect x="887.92" y="547.19" width="57.68" height="4.30" fill="rgb(46, 0, 3)"/>
<rect x="887.92" y="549.89" width="57.68" height="4.30" fill="rgb(35, 0, 2)"/>
<rect x="887.92" y="552.59" width="57.68" height="4.00" fill="rgb(55, 1, 4)"/>
<rect x="887.92" y="554.99" width="57.68" height="4.00" fill="rgb(47, 0, 3)"/>
<rect x="887.92" y="557.39" width="57.68" height="5.20" fill="rgb(14, 0, 1)"/>
<rect x="887.92" y="560.99" width="57.68" height="5.20" fill="rgb(24, 0, 1)"/>
<rect x="887.92" y="564.59" width="57.68" height="4.40" fill="rgb(11, 0, 1)"/>
<rect x="887.92" y="567.39" width="57.68" height="4.40" fill="rgb(6, 0, 0)"/>
<rect x="887.92" y="570.19" width="57.68" height="4.40" fill="rgb(9, 0, 0)"/>
<rect x="887.92" y="572.99" width="57.68" height="5.20" fill="rgb(114, 8, 16)"/>
<rect x="887.92" y="576.59" width="57.68" height="4.40" fill="rgb(50, 0, 3)"/>
<rect x="887.92" y="579.39" width="57.68" height="4.40" fill="rgb(38, 0, 2)"/>
<rect x="887.92" y="582.19" width="57.68" height="4.40" fill="rgb(30, 0, 1)"/>
<rect x="887.92" y="584.99" width="57.68" height="4.80" fill="rgb(0, 3, 1)"/>
<rect x="887.92" y="588.19" width="57.68" height="4.80" fill="rgb(1, 0, 0)"/>
<rect x="887.92" y="591.39" width="57.68" height="4.80" fill="rgb(0, 3, 1)"/>
<rect x="887.92" y="594.59" width="57.68" height="4.78" fill="rgb(81, 2, 8)"/>
<rect x="887.92" y="597.76" width="57.68" height="4.78" fill="rgb(81, 2, 8)"/>
<rect x="887.92" y="600.94" width="57.68" height="4.78" fill="rgb(86, 3, 9)"/>
<rect x="887.92" y="604.12" width="57.68" height="4.78" fill="rgb(82, 2, 8)"/>
<rect x="887.92" y="607.29" width="57.68" height="4.78" fill="rgb(87, 3, 9)"/>
<rect x="887.92" y="610.47" width="57.68" height="4.78" fill="rgb(85, 3, 9)"/>
<rect x="887.92" y="613.65" width="57.68" height="4.78" fill="rgb(84, 2, 9)"/>
<rect x="887.92" y="616.82" width="57.68" height="4.78" fill="rgb(77, 2, 7)"/>
<rect x="887.92" y="620.08" width="57.68" height="4.38" fill="rgb(85, 3, 9)"/>
<rect x="887.92" y="622.86" width="57.68" height="4.38" fill="rgb(73, 2, 7)"/>
<rect x="887.92" y="625.64" width="57.68" height="4.38" fill="rgb(90, 4, 10)"/>
<rect x="887.92" y="628.43" width="57.68" height="4.38" fill="rgb(91, 4, 10)"/>
<rect x="887.92" y="631.21" width="57.68" height="4.38" fill="rgb(92, 4, 10)"/>
<rect x="887.92" y="634.00" width="57.68" height="4.40" fill="rgb(51, 1, 4)"/>
<rect x="887.92" y="636.80" width="57.68" height="4.40" fill="rgb(45, 0, 3)"/>
<rect x="887.92" y="639.60" width="57.68" height="4.40" fill="rgb(38, 0, 2)"/>
<rect x="887.92" y="642.40" width="57.68" height="5.20" fill="rgb(114, 8, 16)"/>
<rect x="887.92" y="646.00" width="57.68" height="4.60" fill="rgb(43, 0, 2)"/>
<rect x="887.92" y="648.99" width="57.68" height="4.60" fill="rgb(31, 0, 2)"/>
<rect x="887.92" y="651.99" width="57.68" height="4.60" fill="rgb(27, 0, 1)"/>
<rect x="887.92" y="654.99" width="57.68" height="4.60" fill="rgb(33, 0, 2)"/>
<rect x="887.92" y="657.99" width="57.68" height="4.80" fill="rgb(5, 0, 0)"/>
<rect x="887.92" y="661.20" width="57.68" height="4.80" fill="rgb(1, 0, 0)"/>
<rect x="887.92" y="664.40" width="57.68" height="4.80" fill="rgb(7, 0, 0)"/>
<rect x="887.92" y="667.60" width="57.68" height="4.80" fill="rgb(4, 0, 0)"/>
<rect x="887.92" y="670.80" width="57.68" height="4.80" fill="rgb(4, 0, 0)"/>
<rect x="887.92" y="674.00" width="57.68" height="4.80" fill="rgb(6, 0, 0)"/>
<rect x="887.92" y="677.20" width="57.68" height="4.80" fill="rgb(6, 0, 0)"/>
</g></g>
<path d="M859.3 69.2 V59.7 H916.6 V69.2 M802.0 69.2 V56.8 H887.9 V59.7 M744.7 69.2 V49.0 H845.0 V56.8 M687.4 69.2 V15.0 H794.8 V49.0" fill="none" stroke="#000" stroke-width="1.5" stroke-linejoin="miter"/>
<path d="M600.4 77.7 V208.3 M600.4 77.7 H624.6 M624.6 72.3 V83.2 M624.6 72.3 H655.5 M655.5 70.7 V73.8 M655.5 70.7 H658.3 M655.5 73.8 H658.3 M624.6 83.2 H638.0 M638.0 78.4 V88.0 M638.0 78.4 H655.5 M655.5 76.9 V79.9 M655.5 76.9 H658.3 M655.5 79.9 H658.3 M638.0 88.0 H644.2 M644.2 84.6 V91.5 M644.2 84.6 H655.1 M655.1 83.0 V86.1 M655.1 83.0 H658.3 M655.1 86.1 H658.3 M644.2 91.5 H653.9 M653.9 89.2 V93.8 M653.9 89.2 H658.3 M653.9 93.8 H655.5 M655.5 92.2 V95.3 M655.5 92.2 H658.3 M655.5 95.3 H658.3 M600.4 208.3 H603.4 M603.4 103.7 V313.0 M603.4 103.7 H640.6 M640.6 99.9 V107.4 M640.6 99.9 H654.5 M654.5 98.4 V101.4 M654.5 98.4 H658.3 M654.5 101.4 H658.3 M640.6 107.4 H651.8 M651.8 104.5 V110.3 M651.8 104.5 H658.3 M651.8 110.3 H653.4 M653.4 107.6 V113.0 M653.4 107.6 H658.3 M653.4 113.0 H655.0 M655.0 110.7 V115.3 M655.0 110.7 H658.3 M655.0 115.3 H656.1 M656.1 113.7 V116.8 M656.1 113.7 H658.3 M656.1 116.8 H658.3 M603.4 313.0 H622.0 M622.0 181.0 V445.0 M622.0 181.0 H637.4 M637.4 141.8 V228.3 M637.4 141.8 H640.2 M640.2 123.3 V160.4 M640.2 123.3 H652.7 M652.7 119.9 V126.8 M652.7 119.9 H658.3 M652.7 126.8 H654.3 M654.3 124.5 V129.1 M654.3 124.5 H655.9 M655.9 122.9 V126.0 M655.9 122.9 H658.3 M655.9 126.0 H658.3 M654.3 129.1 H658.3 M640.2 160.4 H643.6 M643.6 144.3 V176.5 M643.6 144.3 H649.9 M649.9 137.2 V151.4 M649.9 137.2 H651.5 M651.5 133.7 V140.6 M651.5 133.7 H655.5 M655.5 132.2 V135.2 M655.5 132.2 H658.3 M655.5 135.2 H658.3 M651.5 140.6 H653.6 M653.6 138.3 V142.9 M653.6 138.3 H658.3 M653.6 142.9 H655.2 M655.2 141.4 V144.4 M655.2 141.4 H658.3 M655.2 144.4 H658.3 M649.9 151.4 H653.1 M653.1 149.1 V153.7 M653.1 149.1 H655.3 M655.3 147.5 V150.6 M655.3 147.5 H658.3 M655.3 150.6 H658.3 M653.1 153.7 H658.3 M643.6 176.5 H648.4 M648.4 168.5 V184.4 M648.4 168.5 H650.0 M650.0 160.6 V176.5 M650.0 160.6 H653.4 M653.4 158.3 V162.9 M653.4 158.3 H655.0 M655.0 156.7 V159.8 M655.0 156.7 H658.3 M655.0 159.8 H658.3 M653.4 162.9 H658.3 M650.0 176.5 H651.6 M651.6 171.7 V181.3 M651.6 171.7 H653.2 M653.2 167.5 V175.9 M653.2 167.5 H655.5 M655.5 165.9 V169.0 M655.5 165.9 H658.3 M655.5 169.0 H658.3 M653.2 175.9 H654.8 M654.8 173.6 V178.2 M654.8 173.6 H656.1 M656.1 172.1 V175.2 M656.1 172.1 H658.3 M656.1 175.2 H658.3 M654.8 178.2 H658.3 M651.6 181.3 H658.3 M648.4 184.4 H658.3 M637.4 228.3 H641.5 M641.5 197.8 V258.8 M641.5 197.8 H650.1 M650.1 192.1 V203.6 M650.1 192.1 H651.9 M651.9 189.0 V195.1 M651.9 189.0 H655.4 M655.4 187.4 V190.5 M655.4 187.4 H658.3 M655.4 190.5 H658.3 M651.9 195.1 H654.5 M654.5 193.6 V196.7 M654.5 193.6 H658.3 M654.5 196.7 H658.3 M650.1 203.6 H653.8 M653.8 201.3 V205.9 M653.8 201.3 H655.4 M655.4 199.7 V202.8 M655.4 199.7 H658.3 M655.4 202.8 H658.3 M653.8 205.9 H658.3 M641.5 258.8 H643.2 M643.2 221.5 V296.0 M643.2 221.5 H647.8 M647.8 208.9 V234.0 M647.8 208.9 H658.3 M647.8 234.0 H649.4 M649.4 221.5 V246.6 M649.4 221.5 H651.0 M651.0 214.3 V228.7 M651.0 214.3 H653.1 M653.1 212.0 V216.6 M653.1 212.0 H658.3 M653.1 216.6 H655.4 M655.4 215.1 V218.2 M655.4 215.1 H658.3 M655.4 218.2 H658.3 M651.0 228.7 H652.6 M652.6 223.5 V233.9 M652.6 223.5 H654.2 M654.2 221.2 V225.8 M654.2 221.2 H658.3 M654.2 225.8 H655.8 M655.8 224.3 V227.4 M655.8 224.3 H658.3 M655.8 227.4 H658.3 M652.6 233.9 H654.2 M654.2 230.4 V237.4 M654.2 230.4 H658.3 M654.2 237.4 H655.8 M655.8 235.1 V239.7 M655.8 235.1 H656.1 M656.1 233.5 V236.6 M656.1 233.5 H658.3 M656.1 236.6 H658.3 M655.8 239.7 H658.3 M649.4 246.6 H653.3 M653.3 244.3 V248.9 M653.3 244.3 H655.4 M655.4 242.7 V245.8 M655.4 242.7 H658.3 M655.4 245.8 H658.3 M653.3 248.9 H658.3 M643.2 296.0 H644.6 M644.6 271.0 V321.1 M644.6 271.0 H647.2 M647.2 256.0 V286.0 M647.2 256.0 H650.4 M650.4 251.9 V260.0 M650.4 251.9 H658.3 M650.4 260.0 H652.1 M652.1 256.6 V263.5 M652.1 256.6 H654.8 M654.8 255.0 V258.1 M654.8 255.0 H658.3 M654.8 258.1 H658.3 M652.1 263.5 H653.7 M653.7 261.2 V265.8 M653.7 261.2 H658.3 M653.7 265.8 H655.3 M655.3 264.2 V267.3 M655.3 264.2 H658.3 M655.3 267.3 H658.3 M647.2 286.0 H648.8 M648.8 277.9 V294.2 M648.8 277.9 H650.6 M650.6 272.7 V283.0 M650.6 272.7 H653.9 M653.9 270.4 V275.0 M653.9 270.4 H658.3 M653.9 275.0 H655.5 M655.5 273.4 V276.5 M655.5 273.4 H658.3 M655.5 276.5 H658.3 M650.6 283.0 H652.2 M652.2 279.6 V286.5 M652.2 279.6 H658.3 M652.2 286.5 H653.8 M653.8 284.2 V288.8 M653.8 284.2 H655.4 M655.4 282.7 V285.7 M655.4 282.7 H658.3 M655.4 285.7 H658.3 M653.8 288.8 H658.3 M648.8 294.2 H653.0 M653.0 291.9 V296.5 M653.0 291.9 H658.3 M653.0 296.5 H655.6 M655.6 294.9 V298.0 M655.6 294.9 H658.3 M655.6 298.0 H658.3 M644.6 321.1 H647.6 M647.6 308.6 V333.6 M647.6 308.6 H650.7 M650.7 302.6 V314.5 M650.7 302.6 H654.9 M654.9 301.1 V304.2 M654.9 301.1 H658.3 M654.9 304.2 H658.3 M650.7 314.5 H652.3 M652.3 311.1 V318.0 M652.3 311.1 H653.9 M653.9 308.8 V313.4 M653.9 308.8 H655.5 M655.5 307.2 V310.3 M655.5 307.2 H658.3 M655.5 310.3 H658.3 M653.9 313.4 H658.3 M652.3 318.0 H655.2 M655.2 316.4 V319.5 M655.2 316.4 H658.3 M655.2 319.5 H658.3 M647.6 333.6 H649.3 M649.3 324.9 V342.4 M649.3 324.9 H653.0 M653.0 322.6 V327.2 M653.0 322.6 H658.3 M653.0 327.2 H655.5 M655.5 325.7 V328.7 M655.5 325.7 H658.3 M655.5 328.7 H658.3 M649.3 342.4 H650.9 M650.9 338.3 V346.4 M650.9 338.3 H652.5 M652.5 335.6 V341.0 M652.5 335.6 H654.1 M654.1 333.3 V337.9 M654.1 333.3 H655.7 M655.7 331.8 V334.9 M655.7 331.8 H658.3 M655.7 334.9 H658.3 M654.1 337.9 H658.3 M652.5 341.0 H658.3 M650.9 346.4 H654.0 M654.0 344.1 V348.7 M654.0 344.1 H658.3 M654.0 348.7 H655.6 M655.6 347.2 V350.2 M655.6 347.2 H658.3 M655.6 350.2 H658.3 M622.0 445.0 H633.0 M633.0 363.0 V525.0 M633.0 363.0 H637.6 M637.6 353.3 V390.0 M637.6 353.3 H658.3 M637.6 390.0 H641.0 M641.0 359.8 V420.2 M641.0 359.8 H652.0 M652.0 356.4 V363.3 M652.0 356.4 H658.3 M652.0 363.3 H653.6 M653.6 361.0 V365.6 M653.6 361.0 H655.2 M655.2 359.4 V362.5 M655.2 359.4 H658.3 M655.2 362.5 H658.3 M653.6 365.6 H658.3 M641.0 420.2 H643.5 M643.5 386.2 V454.2 M643.5 386.2 H647.5 M647.5 372.5 V399.9 M647.5 372.5 H651.1 M651.1 368.7 V376.3 M651.1 368.7 H658.3 M651.1 376.3 H652.7 M652.7 373.3 V379.4 M652.7 373.3 H655.5 M655.5 371.7 V374.8 M655.5 371.7 H658.3 M655.5 374.8 H658.3 M652.7 379.4 H655.7 M655.7 377.9 V380.9 M655.7 377.9 H658.3 M655.7 380.9 H658.3 M647.5 399.9 H649.2 M649.2 391.3 V408.6 M649.2 391.3 H650.8 M650.8 385.5 V397.1 M650.8 385.5 H655.4 M655.4 384.0 V387.1 M655.4 384.0 H658.3 M655.4 387.1 H658.3 M650.8 397.1 H652.4 M652.4 392.5 V401.7 M652.4 392.5 H654.0 M654.0 390.2 V394.8 M654.0 390.2 H658.3 M654.0 394.8 H655.6 M655.6 393.2 V396.3 M655.6 393.2 H658.3 M655.6 396.3 H658.3 M652.4 401.7 H654.0 M654.0 399.4 V404.0 M654.0 399.4 H658.3 M654.0 404.0 H655.6 M655.6 402.4 V405.5 M655.6 402.4 H658.3 M655.6 405.5 H658.3 M649.2 408.6 H658.3 M643.5 454.2 H645.0 M645.0 435.4 V473.1 M645.0 435.4 H647.7 M647.7 423.0 V447.7 M647.7 423.0 H649.3 M649.3 413.2 V432.8 M649.3 413.2 H655.2 M655.2 411.7 V414.7 M655.2 411.7 H658.3 M655.2 414.7 H658.3 M649.3 432.8 H650.9 M650.9 425.5 V440.1 M650.9 425.5 H652.5 M652.5 421.6 V429.3 M652.5 421.6 H654.1 M654.1 419.3 V423.9 M654.1 419.3 H655.7 M655.7 417.8 V420.9 M655.7 417.8 H658.3 M655.7 420.9 H658.3 M654.1 423.9 H658.3 M652.5 429.3 H654.1 M654.1 427.0 V431.6 M654.1 427.0 H658.3 M654.1 431.6 H655.7 M655.7 430.1 V433.2 M655.7 430.1 H658.3 M655.7 433.2 H658.3 M650.9 440.1 H654.0 M654.0 437.8 V442.4 M654.0 437.8 H655.6 M655.6 436.2 V439.3 M655.6 436.2 H658.3 M655.6 439.3 H658.3 M654.0 442.4 H658.3 M647.7 447.7 H654.0 M654.0 445.4 V450.0 M654.0 445.4 H658.3 M654.0 450.0 H655.6 M655.6 448.5 V451.6 M655.6 448.5 H658.3 M655.6 451.6 H658.3 M645.0 473.1 H648.5 M648.5 463.9 V482.3 M648.5 463.9 H650.8 M650.8 459.3 V468.5 M650.8 459.3 H652.8 M652.8 456.2 V462.3 M652.8 456.2 H655.0 M655.0 454.7 V457.7 M655.0 454.7 H658.3 M655.0 457.7 H658.3 M652.8 462.3 H654.9 M654.9 460.8 V463.9 M654.9 460.8 H658.3 M654.9 463.9 H658.3 M650.8 468.5 H655.4 M655.4 466.9 V470.0 M655.4 466.9 H658.3 M655.4 470.0 H658.3 M648.5 482.3 H651.0 M651.0 477.7 V486.9 M651.0 477.7 H652.6 M652.6 474.6 V480.8 M652.6 474.6 H655.2 M655.2 473.1 V476.2 M655.2 473.1 H658.3 M655.2 476.2 H658.3 M652.6 480.8 H655.3 M655.3 479.2 V482.3 M655.3 479.2 H658.3 M655.3 482.3 H658.3 M651.0 486.9 H655.5 M655.5 485.4 V488.4 M655.5 485.4 H658.3 M655.5 488.4 H658.3 M633.0 525.0 H637.0 M637.0 491.5 V562.3 M637.0 491.5 H658.3 M637.0 562.3 H641.6 M641.6 528.5 V596.2 M641.6 528.5 H647.5 M647.5 519.3 V537.6 M647.5 519.3 H649.1 M649.1 506.4 V532.2 M649.1 506.4 H650.7 M650.7 496.1 V516.8 M650.7 496.1 H655.0 M655.0 494.6 V497.7 M655.0 494.6 H658.3 M655.0 497.7 H658.3 M650.7 516.8 H652.3 M652.3 512.1 V521.5 M652.3 512.1 H653.9 M653.9 508.0 V516.1 M653.9 508.0 H655.5 M655.5 504.6 V511.5 M655.5 504.6 H656.1 M656.1 502.3 V506.9 M656.1 502.3 H656.1 M656.1 500.7 V503.8 M656.1 500.7 H658.3 M656.1 503.8 H658.3 M656.1 506.9 H658.3 M655.5 511.5 H656.1 M656.1 509.9 V513.0 M656.1 509.9 H658.3 M656.1 513.0 H658.3 M653.9 516.1 H658.3 M652.3 521.5 H653.9 M653.9 519.2 V523.8 M653.9 519.2 H658.3 M653.9 523.8 H655.5 M655.5 522.2 V525.3 M655.5 522.2 H658.3 M655.5 525.3 H658.3 M649.1 532.2 H653.0 M653.0 529.9 V534.5 M653.0 529.9 H654.6 M654.6 528.4 V531.4 M654.6 528.4 H658.3 M654.6 531.4 H658.3 M653.0 534.5 H658.3 M647.5 537.6 H658.3 M641.6 596.2 H644.0 M644.0 557.7 V634.8 M644.0 557.7 H647.3 M647.3 542.2 V573.2 M647.3 542.2 H654.8 M654.8 540.7 V543.7 M654.8 540.7 H658.3 M654.8 543.7 H658.3 M647.3 573.2 H648.9 M648.9 565.9 V580.6 M648.9 565.9 H650.5 M650.5 555.8 V576.0 M650.5 555.8 H652.1 M652.1 548.3 V563.3 M652.1 548.3 H655.4 M655.4 546.8 V549.9 M655.4 546.8 H658.3 M655.4 549.9 H658.3 M652.1 563.3 H653.7 M653.7 557.5 V569.1 M653.7 557.5 H655.3 M655.3 554.5 V560.6 M655.3 554.5 H656.1 M656.1 552.9 V556.0 M656.1 552.9 H658.3 M656.1 556.0 H658.3 M655.3 560.6 H656.1 M656.1 559.1 V562.2 M656.1 559.1 H658.3 M656.1 562.2 H658.3 M653.7 569.1 H655.3 M655.3 566.8 V571.4 M655.3 566.8 H656.1 M656.1 565.2 V568.3 M656.1 565.2 H658.3 M656.1 568.3 H658.3 M655.3 571.4 H658.3 M650.5 576.0 H655.5 M655.5 574.4 V577.5 M655.5 574.4 H658.3 M655.5 577.5 H658.3 M648.9 580.6 H658.3 M644.0 634.8 H646.0 M646.0 613.3 V656.2 M646.0 613.3 H647.6 M647.6 603.1 V623.6 M647.6 603.1 H649.2 M649.2 592.3 V613.9 M649.2 592.3 H651.1 M651.1 587.1 V597.5 M651.1 587.1 H652.7 M652.7 583.7 V590.6 M652.7 583.7 H658.3 M652.7 590.6 H654.3 M654.3 588.3 V592.9 M654.3 588.3 H655.9 M655.9 586.7 V589.8 M655.9 586.7 H658.3 M655.9 589.8 H658.3 M654.3 592.9 H658.3 M651.1 597.5 H654.8 M654.8 595.9 V599.0 M654.8 595.9 H658.3 M654.8 599.0 H658.3 M649.2 613.9 H650.8 M650.8 607.3 V620.5 M650.8 607.3 H652.4 M652.4 602.1 V612.4 M652.4 602.1 H658.3 M652.4 612.4 H654.0 M654.0 609.0 V615.9 M654.0 609.0 H655.6 M655.6 606.7 V611.3 M655.6 606.7 H656.1 M656.1 605.2 V608.2 M656.1 605.2 H658.3 M656.1 608.2 H658.3 M655.6 611.3 H658.3 M654.0 615.9 H655.6 M655.6 614.4 V617.4 M655.6 614.4 H658.3 M655.6 617.4 H658.3 M650.8 620.5 H658.3 M647.6 623.6 H658.3 M646.0 656.2 H649.1 M649.1 635.8 V676.6 M649.1 635.8 H650.7 M650.7 628.2 V643.4 M650.7 628.2 H654.7 M654.7 626.7 V629.7 M654.7 626.7 H658.3 M654.7 629.7 H658.3 M650.7 643.4 H652.3 M652.3 632.8 V653.9 M652.3 632.8 H658.3 M652.3 653.9 H653.9 M653.9 639.8 V668.1 M653.9 639.8 H655.5 M655.5 635.9 V643.7 M655.5 635.9 H658.3 M655.5 643.7 H656.1 M656.1 638.9 V648.4 M656.1 638.9 H658.3 M656.1 648.4 H656.1 M656.1 643.5 V653.3 M656.1 643.5 H656.1 M656.1 642.0 V645.1 M656.1 642.0 H658.3 M656.1 645.1 H658.3 M656.1 653.3 H656.1 M656.1 648.2 V658.5 M656.1 648.2 H658.3 M656.1 658.5 H656.1 M656.1 655.1 V662.0 M656.1 655.1 H656.1 M656.1 652.8 V657.4 M656.1 652.8 H656.1 M656.1 651.2 V654.3 M656.1 651.2 H658.3 M656.1 654.3 H658.3 M656.1 657.4 H658.3 M656.1 662.0 H656.1 M656.1 660.4 V663.5 M656.1 660.4 H658.3 M656.1 663.5 H658.3 M653.9 668.1 H655.5 M655.5 666.6 V669.7 M655.5 666.6 H658.3 M655.5 669.7 H658.3 M649.1 676.6 H653.6 M653.6 674.3 V678.9 M653.6 674.3 H655.2 M655.2 672.7 V675.8 M655.2 672.7 H658.3 M655.2 675.8 H658.3 M653.6 678.9 H658.3" fill="none" stroke="#000" stroke-width="1.5" stroke-linecap="square"/>
<defs><linearGradient id="lg" x1="0" y1="0" x2="0" y2="1">
<stop offset="0.0000" stop-color="rgb(253, 19, 19)"/>
<stop offset="0.0417" stop-color="rgb(245, 22, 24)"/>
<stop offset="0.0833" stop-color="rgb(234, 25, 29)"/>
<stop offset="0.1250" stop-color="rgb(212, 27, 32)"/>
<stop offset="0.1667" stop-color="rgb(189, 26, 32)"/>
<stop offset="0.2083" stop-color="rgb(165, 21, 29)"/>
<stop offset="0.2500" stop-color="rgb(143, 15, 23)"/>
<stop offset="0.2917" stop-color="rgb(120, 10, 18)"/>
<stop offset="0.3333" stop-color="rgb(96, 5, 12)"/>
<stop offset="0.3750" stop-color="rgb(72, 2, 7)"/>
<stop offset="0.4167" stop-color="rgb(48, 0, 3)"/>
<stop offset="0.4583" stop-color="rgb(24, 0, 1)"/>
<stop offset="0.5000" stop-color="rgb(0, 0, 0)"/>
<stop offset="0.5417" stop-color="rgb(1, 18, 6)"/>
<stop offset="0.5833" stop-color="rgb(3, 36, 14)"/>
<stop offset="0.6250" stop-color="rgb(4, 55, 25)"/>
<stop offset="0.6667" stop-color="rgb(6, 72, 34)"/>
<stop offset="0.7083" stop-color="rgb(6, 87, 42)"/>
<stop offset="0.7500" stop-color="rgb(7, 103, 49)"/>
<stop offset="0.7917" stop-color="rgb(8, 118, 56)"/>
<stop offset="0.8333" stop-color="rgb(9, 133, 59)"/>
<stop offset="0.8750" stop-color="rgb(12, 151, 52)"/>
<stop offset="0.9167" stop-color="rgb(15, 172, 37)"/>
<stop offset="0.9583" stop-color="rgb(19, 185, 33)"/>
<stop offset="1.0000" stop-color="rgb(24, 198, 30)"/>
</linearGradient></defs>
<rect x="953" y="523" width="11" height="153" fill="url(#lg)"/>
<text x="968.3" y="538.0" font-family="Liberation Serif, serif" font-size="10.5" fill="#111">1.5</text>
<text x="968.3" y="559.8" font-family="Liberation Serif, serif" font-size="10.5" fill="#111">1</text>
<text x="968.3" y="581.4" font-family="Liberation Serif, serif" font-size="10.5" fill="#111">0.5</text>
<text x="968.3" y="603.2" font-family="Liberation Serif, serif" font-size="10.5" fill="#111">0</text>
<text x="968.3" y="624.7" font-family="Liberation Serif, serif" font-size="10.5" fill="#111">−0.5</text>
<text x="968.3" y="646.2" font-family="Liberation Serif, serif" font-size="10.5" fill="#111">−1</text>
<text x="968.3" y="668.0" font-family="Liberation Serif, serif" font-size="10.5" fill="#111">−1.5</text>
<text x="687.6" y="702.4" font-family="Liberation Serif, serif" font-size="22" fill="#111" text-anchor="middle">GES</text>
<text x="746" y="702.4" font-family="Liberation Serif, serif" font-size="22" fill="#111" text-anchor="middle">AGS</text>
<text x="804.7" y="702.4" font-family="Liberation Serif, serif" font-size="22" fill="#111" text-anchor="middle">MGC</text>
<text x="862" y="702.4" font-family="Liberation Serif, serif" font-size="22" fill="#111" text-anchor="middle">BGC</text>
<text x="916.4" y="702.4" font-family="Liberation Serif, serif" font-size="22" fill="#111" text-anchor="middle">SGC</text>
</svg>
<div class="cap" id="c1"><b style="letter-spacing:.3px">Figure 2</b> <span style="word-spacing:.35px">Screening of upregulated GC-specific exosomal lncRNAs according to lncRNA microarray assay. (<b>A</b>) </span><span style="word-spacing:1.62px">A total of 199 lncRNAs were upregulated in CM-derived</span></div>
<div class="cap" id="c2"><span style="word-spacing:.8px">exosome from four GCCs compared with GES-1. (<b>B</b>) </span><span style="word-spacing:.2px">Heatmap result of upregulated lncRNAs </span><span style="word-spacing:-.7px">based on lncRNA microarray analysis.</span></div>
</body></html>
